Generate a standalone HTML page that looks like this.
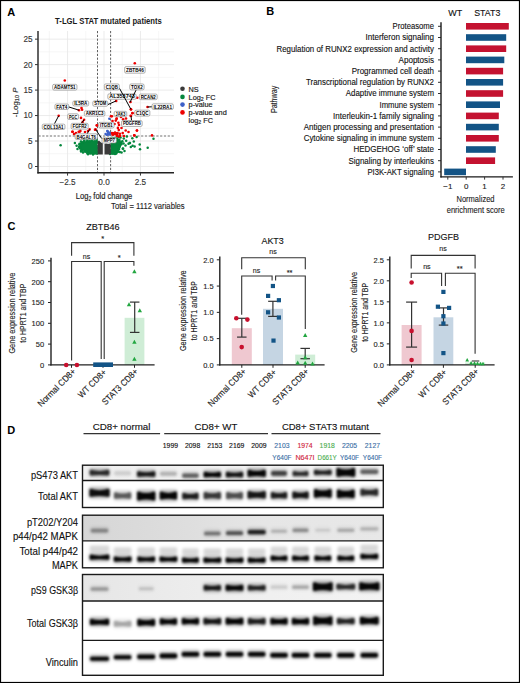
<!DOCTYPE html>
<html><head><meta charset="utf-8"><style>
html,body{margin:0;padding:0;background:#fff;}
svg{display:block;font-family:"Liberation Sans", sans-serif;}
</style></head><body>
<svg width="520" height="683" viewBox="0 0 520 683">
<defs>
<filter id="b1" x="-30%" y="-100%" width="160%" height="300%"><feGaussianBlur stdDeviation="0.95"/></filter>
<filter id="b2" x="-30%" y="-100%" width="160%" height="300%"><feGaussianBlur stdDeviation="1.8"/></filter>
<filter id="b3" x="-30%" y="-100%" width="160%" height="300%"><feGaussianBlur stdDeviation="1.5"/></filter>
<linearGradient id="gp1" x1="0" x2="1" y1="0" y2="0"><stop offset="0" stop-color="#f0f0f0"/><stop offset="1" stop-color="#f4f4f4"/></linearGradient>
<linearGradient id="gp2" x1="0" x2="1" y1="0" y2="0"><stop offset="0" stop-color="#d6d6d6"/><stop offset="0.35" stop-color="#dedede"/><stop offset="0.6" stop-color="#e6e6e6"/><stop offset="1" stop-color="#e8e8e8"/></linearGradient>
<linearGradient id="gp3" x1="0" x2="1" y1="0" y2="0"><stop offset="0" stop-color="#e6e6e6"/><stop offset="0.5" stop-color="#efefef"/><stop offset="1" stop-color="#f3f3f3"/></linearGradient>
</defs>
<rect x="0" y="0" width="520" height="683" fill="#fff"/>
<text x="7.20" y="15.60" font-size="11" text-anchor="start" fill="#000" font-weight="bold">A</text>
<text x="55.10" y="24.20" font-size="8.3" text-anchor="start" fill="#1a1a1a" font-weight="bold" textLength="106.80" lengthAdjust="spacingAndGlyphs">T-LGL STAT mutated patients</text>
<line x1="49.33" y1="31.00" x2="49.33" y2="172.00" stroke="#f0f0f0" stroke-width="0.6"/>
<line x1="85.78" y1="31.00" x2="85.78" y2="172.00" stroke="#f0f0f0" stroke-width="0.6"/>
<line x1="122.22" y1="31.00" x2="122.22" y2="172.00" stroke="#f0f0f0" stroke-width="0.6"/>
<line x1="158.68" y1="31.00" x2="158.68" y2="172.00" stroke="#f0f0f0" stroke-width="0.6"/>
<line x1="38.50" y1="153.76" x2="174.00" y2="153.76" stroke="#f0f0f0" stroke-width="0.6"/>
<line x1="38.50" y1="128.29" x2="174.00" y2="128.29" stroke="#f0f0f0" stroke-width="0.6"/>
<line x1="38.50" y1="102.82" x2="174.00" y2="102.82" stroke="#f0f0f0" stroke-width="0.6"/>
<line x1="38.50" y1="77.35" x2="174.00" y2="77.35" stroke="#f0f0f0" stroke-width="0.6"/>
<line x1="38.50" y1="51.88" x2="174.00" y2="51.88" stroke="#f0f0f0" stroke-width="0.6"/>
<line x1="67.55" y1="31.00" x2="67.55" y2="172.00" stroke="#e6e6e6" stroke-width="0.8"/>
<line x1="104.00" y1="31.00" x2="104.00" y2="172.00" stroke="#e6e6e6" stroke-width="0.8"/>
<line x1="140.45" y1="31.00" x2="140.45" y2="172.00" stroke="#e6e6e6" stroke-width="0.8"/>
<line x1="38.50" y1="166.50" x2="174.00" y2="166.50" stroke="#e6e6e6" stroke-width="0.8"/>
<line x1="38.50" y1="141.03" x2="174.00" y2="141.03" stroke="#e6e6e6" stroke-width="0.8"/>
<line x1="38.50" y1="115.56" x2="174.00" y2="115.56" stroke="#e6e6e6" stroke-width="0.8"/>
<line x1="38.50" y1="90.09" x2="174.00" y2="90.09" stroke="#e6e6e6" stroke-width="0.8"/>
<line x1="38.50" y1="64.62" x2="174.00" y2="64.62" stroke="#e6e6e6" stroke-width="0.8"/>
<line x1="38.50" y1="39.15" x2="174.00" y2="39.15" stroke="#e6e6e6" stroke-width="0.8"/>
<line x1="38.00" y1="31.00" x2="38.00" y2="173.40" stroke="#222" stroke-width="1.4"/>
<line x1="37.40" y1="172.80" x2="174.00" y2="172.80" stroke="#222" stroke-width="1.4"/>
<line x1="35.00" y1="166.50" x2="38.00" y2="166.50" stroke="#333" stroke-width="1"/>
<text x="32.60" y="169.40" font-size="8.2" text-anchor="end" fill="#333" stroke="#333" stroke-width="0.12">0</text>
<line x1="35.00" y1="141.03" x2="38.00" y2="141.03" stroke="#333" stroke-width="1"/>
<text x="32.60" y="143.93" font-size="8.2" text-anchor="end" fill="#333" stroke="#333" stroke-width="0.12">5</text>
<line x1="35.00" y1="115.56" x2="38.00" y2="115.56" stroke="#333" stroke-width="1"/>
<text x="32.60" y="118.46" font-size="8.2" text-anchor="end" fill="#333" stroke="#333" stroke-width="0.12">10</text>
<line x1="35.00" y1="90.09" x2="38.00" y2="90.09" stroke="#333" stroke-width="1"/>
<text x="32.60" y="92.99" font-size="8.2" text-anchor="end" fill="#333" stroke="#333" stroke-width="0.12">15</text>
<line x1="35.00" y1="64.62" x2="38.00" y2="64.62" stroke="#333" stroke-width="1"/>
<text x="32.60" y="67.52" font-size="8.2" text-anchor="end" fill="#333" stroke="#333" stroke-width="0.12">20</text>
<line x1="35.00" y1="39.15" x2="38.00" y2="39.15" stroke="#333" stroke-width="1"/>
<text x="32.60" y="42.05" font-size="8.2" text-anchor="end" fill="#333" stroke="#333" stroke-width="0.12">25</text>
<line x1="67.55" y1="172.80" x2="67.55" y2="175.60" stroke="#333" stroke-width="1"/>
<text x="67.55" y="185.40" font-size="8.2" text-anchor="middle" fill="#333" stroke="#333" stroke-width="0.12">−2.5</text>
<line x1="104.00" y1="172.80" x2="104.00" y2="175.60" stroke="#333" stroke-width="1"/>
<text x="104.00" y="185.40" font-size="8.2" text-anchor="middle" fill="#333" stroke="#333" stroke-width="0.12">0.0</text>
<line x1="140.45" y1="172.80" x2="140.45" y2="175.60" stroke="#333" stroke-width="1"/>
<text x="140.45" y="185.40" font-size="8.2" text-anchor="middle" fill="#333" stroke="#333" stroke-width="0.12">2.5</text>
<text x="75.8" y="199.1" font-size="9.6" fill="#222" stroke="#222" stroke-width="0.18" textLength="56.5" lengthAdjust="spacingAndGlyphs">Log<tspan font-size="6.5" dy="2">2</tspan><tspan dy="-2"> fold change</tspan></text>
<text x="111.10" y="209.20" font-size="9.2" text-anchor="start" fill="#222" stroke="#222" stroke-width="0.12" textLength="73.60" lengthAdjust="spacingAndGlyphs">Total = 1112 variables</text>
<text x="17.6" y="117.2" font-size="8.0" fill="#333" stroke="#333" stroke-width="0.18" transform="rotate(-90 17.6 117.2)">-Log<tspan font-size="5.6" dy="1.8">10</tspan><tspan dy="-1.8" font-style="italic"> P</tspan></text>
<circle cx="182.50" cy="88.80" r="2.3" fill="#3a3a3a"/>
<text x="188.6" y="91.50" font-size="7.3" fill="#222" stroke="#222" stroke-width="0.18">NS</text>
<circle cx="182.50" cy="96.90" r="2.3" fill="#05873d"/>
<text x="188.6" y="99.60" font-size="7.3" fill="#222" stroke="#222" stroke-width="0.18">Log<tspan font-size="5.2" dy="1.6">2</tspan><tspan dy="-1.6"> FC</tspan></text>
<circle cx="182.50" cy="104.60" r="2.3" fill="#3d60c8"/>
<text x="188.6" y="107.30" font-size="7.3" fill="#222" stroke="#222" stroke-width="0.18">p-value</text>
<circle cx="182.50" cy="112.40" r="2.3" fill="#ee0000"/>
<text x="188.6" y="115.10" font-size="7.3" fill="#222" stroke="#222" stroke-width="0.18">p-value and</text>
<text x="188.6" y="122.6" font-size="7.3" fill="#222" stroke="#222" stroke-width="0.18">log<tspan font-size="5.2" dy="1.6">2</tspan><tspan dy="-1.6"> FC</tspan></text>
<line x1="97.50" y1="31.00" x2="97.50" y2="172.00" stroke="#444" stroke-width="0.85" stroke-dasharray="2.2,1.6"/>
<line x1="110.60" y1="31.00" x2="110.60" y2="172.00" stroke="#444" stroke-width="0.85" stroke-dasharray="2.2,1.6"/>
<line x1="38.50" y1="136.00" x2="174.00" y2="136.00" stroke="#555" stroke-width="0.85" stroke-dasharray="2.2,1.6"/>
<polygon points="79.0,146.0 82.0,143.0 86.0,141.3 90.0,140.4 97.6,140.3 97.6,154.5 90.0,153.9 85.0,151.6 80.0,149.5" fill="#05873d"/>
<polygon points="110.8,139.0 112.0,138.3 118.0,138.5 120.5,141.0 121.0,145.0 119.5,149.5 117.0,153.0 113.0,154.5 110.8,154.5" fill="#05873d"/>
<circle cx="79.32" cy="144.84" r="1.25" fill="#05873d"/>
<circle cx="80.74" cy="143.82" r="1.25" fill="#05873d"/>
<circle cx="81.46" cy="143.39" r="1.25" fill="#05873d"/>
<circle cx="82.09" cy="142.67" r="1.25" fill="#05873d"/>
<circle cx="83.26" cy="142.04" r="1.25" fill="#05873d"/>
<circle cx="84.51" cy="140.99" r="1.25" fill="#05873d"/>
<circle cx="86.68" cy="141.64" r="1.25" fill="#05873d"/>
<circle cx="87.40" cy="140.41" r="1.25" fill="#05873d"/>
<circle cx="89.40" cy="141.30" r="1.25" fill="#05873d"/>
<circle cx="91.64" cy="140.21" r="1.25" fill="#05873d"/>
<circle cx="94.56" cy="139.62" r="1.25" fill="#05873d"/>
<circle cx="96.65" cy="139.98" r="1.25" fill="#05873d"/>
<circle cx="97.03" cy="142.53" r="1.25" fill="#05873d"/>
<circle cx="97.29" cy="147.91" r="1.25" fill="#05873d"/>
<circle cx="97.09" cy="151.79" r="1.25" fill="#05873d"/>
<circle cx="96.30" cy="153.40" r="1.25" fill="#05873d"/>
<circle cx="93.88" cy="153.40" r="1.25" fill="#05873d"/>
<circle cx="90.82" cy="153.40" r="1.25" fill="#05873d"/>
<circle cx="89.29" cy="153.32" r="1.25" fill="#05873d"/>
<circle cx="87.20" cy="152.89" r="1.25" fill="#05873d"/>
<circle cx="85.93" cy="151.74" r="1.25" fill="#05873d"/>
<circle cx="84.47" cy="151.50" r="1.25" fill="#05873d"/>
<circle cx="82.09" cy="150.67" r="1.25" fill="#05873d"/>
<circle cx="81.04" cy="150.52" r="1.25" fill="#05873d"/>
<circle cx="80.17" cy="148.46" r="1.25" fill="#05873d"/>
<circle cx="80.27" cy="147.14" r="1.25" fill="#05873d"/>
<circle cx="79.07" cy="147.11" r="1.25" fill="#05873d"/>
<circle cx="110.48" cy="138.84" r="1.25" fill="#05873d"/>
<circle cx="110.66" cy="138.92" r="1.25" fill="#05873d"/>
<circle cx="112.18" cy="138.56" r="1.25" fill="#05873d"/>
<circle cx="113.80" cy="138.04" r="1.25" fill="#05873d"/>
<circle cx="115.31" cy="138.55" r="1.25" fill="#05873d"/>
<circle cx="116.93" cy="138.39" r="1.25" fill="#05873d"/>
<circle cx="119.04" cy="139.71" r="1.25" fill="#05873d"/>
<circle cx="119.21" cy="140.01" r="1.25" fill="#05873d"/>
<circle cx="119.30" cy="140.82" r="1.25" fill="#05873d"/>
<circle cx="120.84" cy="142.59" r="1.25" fill="#05873d"/>
<circle cx="121.27" cy="142.66" r="1.25" fill="#05873d"/>
<circle cx="120.72" cy="144.47" r="1.25" fill="#05873d"/>
<circle cx="119.94" cy="145.84" r="1.25" fill="#05873d"/>
<circle cx="119.72" cy="146.64" r="1.25" fill="#05873d"/>
<circle cx="119.09" cy="149.03" r="1.25" fill="#05873d"/>
<circle cx="118.41" cy="149.80" r="1.25" fill="#05873d"/>
<circle cx="118.08" cy="151.84" r="1.25" fill="#05873d"/>
<circle cx="116.83" cy="152.22" r="1.25" fill="#05873d"/>
<circle cx="116.28" cy="153.40" r="1.25" fill="#05873d"/>
<circle cx="115.51" cy="153.40" r="1.25" fill="#05873d"/>
<circle cx="113.45" cy="153.40" r="1.25" fill="#05873d"/>
<circle cx="112.63" cy="153.40" r="1.25" fill="#05873d"/>
<circle cx="110.72" cy="153.40" r="1.25" fill="#05873d"/>
<circle cx="110.37" cy="151.38" r="1.25" fill="#05873d"/>
<circle cx="110.94" cy="146.37" r="1.25" fill="#05873d"/>
<circle cx="110.01" cy="141.97" r="1.25" fill="#05873d"/>
<circle cx="74.90" cy="143.00" r="1.25" fill="#05873d"/>
<circle cx="76.60" cy="145.80" r="1.25" fill="#05873d"/>
<circle cx="60.60" cy="145.30" r="1.25" fill="#05873d"/>
<circle cx="77.50" cy="149.00" r="1.25" fill="#05873d"/>
<circle cx="81.00" cy="151.50" r="1.25" fill="#05873d"/>
<circle cx="83.00" cy="152.50" r="1.25" fill="#05873d"/>
<circle cx="122.80" cy="148.70" r="1.25" fill="#05873d"/>
<circle cx="126.20" cy="140.70" r="1.25" fill="#05873d"/>
<circle cx="129.70" cy="143.00" r="1.25" fill="#05873d"/>
<circle cx="126.90" cy="136.60" r="1.25" fill="#05873d"/>
<circle cx="132.30" cy="138.20" r="1.25" fill="#05873d"/>
<circle cx="136.60" cy="136.90" r="1.25" fill="#05873d"/>
<circle cx="153.50" cy="138.80" r="1.25" fill="#05873d"/>
<circle cx="133.80" cy="141.50" r="1.25" fill="#05873d"/>
<circle cx="130.00" cy="143.10" r="1.25" fill="#05873d"/>
<circle cx="139.70" cy="144.60" r="1.25" fill="#05873d"/>
<circle cx="132.60" cy="145.80" r="1.25" fill="#05873d"/>
<circle cx="134.60" cy="146.50" r="1.25" fill="#05873d"/>
<circle cx="130.80" cy="146.90" r="1.25" fill="#05873d"/>
<circle cx="147.70" cy="147.70" r="1.25" fill="#05873d"/>
<circle cx="140.00" cy="149.20" r="1.25" fill="#05873d"/>
<circle cx="123.00" cy="148.50" r="1.25" fill="#05873d"/>
<circle cx="128.50" cy="143.80" r="1.25" fill="#05873d"/>
<circle cx="123.80" cy="138.50" r="1.25" fill="#05873d"/>
<circle cx="122.30" cy="141.20" r="1.25" fill="#05873d"/>
<circle cx="124.50" cy="151.00" r="1.25" fill="#05873d"/>
<circle cx="121.50" cy="152.50" r="1.25" fill="#05873d"/>
<circle cx="125.50" cy="145.50" r="1.25" fill="#05873d"/>
<circle cx="84.00" cy="139.80" r="1.25" fill="#05873d"/>
<circle cx="81.00" cy="141.50" r="1.25" fill="#05873d"/>
<circle cx="87.00" cy="139.00" r="1.25" fill="#05873d"/>
<circle cx="92.00" cy="139.00" r="1.25" fill="#05873d"/>
<circle cx="120.50" cy="137.50" r="1.25" fill="#05873d"/>
<circle cx="118.50" cy="137.00" r="1.25" fill="#05873d"/>
<circle cx="79.50" cy="143.80" r="1.25" fill="#05873d"/>
<circle cx="121.50" cy="144.00" r="1.25" fill="#05873d"/>
<circle cx="123.50" cy="143.50" r="1.25" fill="#05873d"/>
<circle cx="119.80" cy="152.00" r="1.25" fill="#05873d"/>
<circle cx="115.00" cy="154.00" r="1.25" fill="#05873d"/>
<circle cx="110.00" cy="154.00" r="1.25" fill="#05873d"/>
<circle cx="88.00" cy="154.30" r="1.25" fill="#05873d"/>
<circle cx="93.00" cy="154.40" r="1.25" fill="#05873d"/>
<polygon points="97.7,141.5 99,140.5 100.5,142 102,143 102.8,143.2 102.8,154.5 97.7,154.5" fill="#3a3a3a"/>
<polygon points="104.5,144 106,143.6 108,143.9 110.8,143.6 110.8,154.5 104.5,154.5" fill="#3a3a3a"/>
<polygon points="106.7,130.5 108,129.8 109,131 110.6,132.5 110.6,135.8 106.7,135.8" fill="#3d60c8"/>
<circle cx="109.30" cy="118.80" r="1.2" fill="#3d60c8"/>
<circle cx="107.20" cy="131.00" r="1.2" fill="#3d60c8"/>
<circle cx="110.20" cy="133.00" r="1.2" fill="#3d60c8"/>
<circle cx="106.80" cy="134.80" r="1.2" fill="#3d60c8"/>
<circle cx="105.50" cy="134.00" r="1.2" fill="#3d60c8"/>
<circle cx="64.80" cy="80.50" r="1.3" fill="#ee0000"/>
<circle cx="134.80" cy="63.30" r="1.3" fill="#ee0000"/>
<circle cx="58.70" cy="115.80" r="1.3" fill="#ee0000"/>
<circle cx="79.00" cy="110.20" r="1.3" fill="#ee0000"/>
<circle cx="81.50" cy="108.10" r="1.3" fill="#ee0000"/>
<circle cx="82.10" cy="109.80" r="1.3" fill="#ee0000"/>
<circle cx="81.00" cy="117.90" r="1.3" fill="#ee0000"/>
<circle cx="84.10" cy="119.80" r="1.3" fill="#ee0000"/>
<circle cx="82.70" cy="121.90" r="1.3" fill="#ee0000"/>
<circle cx="72.30" cy="131.70" r="1.3" fill="#ee0000"/>
<circle cx="78.70" cy="131.70" r="1.3" fill="#ee0000"/>
<circle cx="80.40" cy="130.90" r="1.3" fill="#ee0000"/>
<circle cx="72.70" cy="131.70" r="1.3" fill="#ee0000"/>
<circle cx="79.60" cy="131.70" r="1.3" fill="#ee0000"/>
<circle cx="89.60" cy="129.40" r="1.3" fill="#ee0000"/>
<circle cx="96.80" cy="125.40" r="1.3" fill="#ee0000"/>
<circle cx="95.60" cy="129.40" r="1.3" fill="#ee0000"/>
<circle cx="111.00" cy="116.20" r="1.3" fill="#ee0000"/>
<circle cx="116.20" cy="100.90" r="1.3" fill="#ee0000"/>
<circle cx="116.70" cy="118.50" r="1.3" fill="#ee0000"/>
<circle cx="130.50" cy="102.00" r="1.3" fill="#ee0000"/>
<circle cx="131.00" cy="109.40" r="1.3" fill="#ee0000"/>
<circle cx="132.50" cy="113.00" r="1.3" fill="#ee0000"/>
<circle cx="131.00" cy="116.00" r="1.3" fill="#ee0000"/>
<circle cx="137.30" cy="97.70" r="1.3" fill="#ee0000"/>
<circle cx="147.50" cy="107.00" r="1.3" fill="#ee0000"/>
<circle cx="111.90" cy="116.20" r="1.3" fill="#ee0000"/>
<circle cx="116.60" cy="118.80" r="1.3" fill="#ee0000"/>
<circle cx="115.80" cy="120.60" r="1.3" fill="#ee0000"/>
<circle cx="118.40" cy="122.70" r="1.3" fill="#ee0000"/>
<circle cx="123.10" cy="119.30" r="1.3" fill="#ee0000"/>
<circle cx="117.90" cy="127.90" r="1.3" fill="#ee0000"/>
<circle cx="118.80" cy="130.10" r="1.3" fill="#ee0000"/>
<circle cx="125.70" cy="130.50" r="1.3" fill="#ee0000"/>
<circle cx="122.70" cy="133.10" r="1.3" fill="#ee0000"/>
<circle cx="120.10" cy="135.70" r="1.3" fill="#ee0000"/>
<circle cx="137.00" cy="130.50" r="1.3" fill="#ee0000"/>
<circle cx="134.40" cy="135.30" r="1.3" fill="#ee0000"/>
<circle cx="96.90" cy="125.30" r="1.3" fill="#ee0000"/>
<circle cx="130.90" cy="109.30" r="1.3" fill="#ee0000"/>
<circle cx="132.40" cy="113.20" r="1.3" fill="#ee0000"/>
<circle cx="130.70" cy="115.80" r="1.3" fill="#ee0000"/>
<circle cx="136.90" cy="130.50" r="1.3" fill="#ee0000"/>
<circle cx="134.20" cy="135.40" r="1.3" fill="#ee0000"/>
<circle cx="152.00" cy="135.40" r="1.3" fill="#ee0000"/>
<circle cx="95.00" cy="129.70" r="1.3" fill="#ee0000"/>
<circle cx="112.00" cy="133.00" r="1.3" fill="#ee0000"/>
<circle cx="114.00" cy="133.50" r="1.3" fill="#ee0000"/>
<circle cx="116.00" cy="134.00" r="1.3" fill="#ee0000"/>
<circle cx="117.50" cy="133.00" r="1.3" fill="#ee0000"/>
<circle cx="113.00" cy="134.80" r="1.3" fill="#ee0000"/>
<circle cx="115.00" cy="132.50" r="1.3" fill="#ee0000"/>
<circle cx="119.00" cy="125.00" r="1.3" fill="#ee0000"/>
<circle cx="121.50" cy="128.00" r="1.3" fill="#ee0000"/>
<circle cx="119.80" cy="133.80" r="1.3" fill="#ee0000"/>
<circle cx="124.00" cy="136.00" r="1.3" fill="#ee0000"/>
<circle cx="112.50" cy="121.00" r="1.3" fill="#ee0000"/>
<circle cx="114.50" cy="124.00" r="1.3" fill="#ee0000"/>
<circle cx="121.00" cy="117.00" r="1.3" fill="#ee0000"/>
<circle cx="126.00" cy="118.50" r="1.3" fill="#ee0000"/>
<circle cx="128.50" cy="132.00" r="1.3" fill="#ee0000"/>
<circle cx="117.00" cy="136.00" r="1.3" fill="#ee0000"/>
<circle cx="119.00" cy="136.50" r="1.3" fill="#ee0000"/>
<circle cx="88.00" cy="131.00" r="1.3" fill="#ee0000"/>
<circle cx="85.00" cy="132.00" r="1.3" fill="#ee0000"/>
<circle cx="76.00" cy="133.00" r="1.3" fill="#ee0000"/>
<circle cx="74.00" cy="134.00" r="1.3" fill="#ee0000"/>
<polygon points="111.2,132.3 117.8,132 118.5,135 111.2,135.2" fill="#ee0000"/>
<rect x="52.65" y="84.35" width="24.30" height="5.70" rx="1.4" fill="#fff" stroke="#8a8a8a" stroke-width="0.7"/>
<text x="64.80" y="89.05" font-size="5.0" text-anchor="middle" fill="#000" font-weight="bold" textLength="21.60" lengthAdjust="spacingAndGlyphs">ADAMTS1</text>
<rect x="54.95" y="104.05" width="13.70" height="5.40" rx="1.4" fill="#fff" stroke="#8a8a8a" stroke-width="0.7"/>
<text x="61.80" y="108.60" font-size="5.0" text-anchor="middle" fill="#000" font-weight="bold" textLength="11.00" lengthAdjust="spacingAndGlyphs">FAT4</text>
<rect x="42.25" y="124.15" width="22.70" height="5.30" rx="1.4" fill="#fff" stroke="#8a8a8a" stroke-width="0.7"/>
<text x="53.60" y="128.65" font-size="5.0" text-anchor="middle" fill="#000" font-weight="bold" textLength="20.00" lengthAdjust="spacingAndGlyphs">COL13A1</text>
<rect x="67.65" y="113.85" width="10.80" height="5.60" rx="1.4" fill="#fff" stroke="#8a8a8a" stroke-width="0.7"/>
<text x="73.05" y="118.50" font-size="5.0" text-anchor="middle" fill="#000" font-weight="bold" textLength="8.10" lengthAdjust="spacingAndGlyphs">PGC</text>
<rect x="72.85" y="100.95" width="15.80" height="5.00" rx="1.4" fill="#fff" stroke="#8a8a8a" stroke-width="0.7"/>
<text x="80.75" y="105.30" font-size="5.0" text-anchor="middle" fill="#000" font-weight="bold" textLength="13.10" lengthAdjust="spacingAndGlyphs">IL5RA</text>
<rect x="92.85" y="100.95" width="14.80" height="5.30" rx="1.4" fill="#fff" stroke="#8a8a8a" stroke-width="0.7"/>
<text x="100.25" y="105.45" font-size="5.0" text-anchor="middle" fill="#000" font-weight="bold" textLength="12.10" lengthAdjust="spacingAndGlyphs">STOM</text>
<rect x="84.35" y="110.95" width="20.50" height="5.10" rx="1.4" fill="#fff" stroke="#8a8a8a" stroke-width="0.7"/>
<text x="94.60" y="115.35" font-size="5.0" text-anchor="middle" fill="#000" font-weight="bold" textLength="17.80" lengthAdjust="spacingAndGlyphs">AKR1C3</text>
<rect x="71.15" y="123.35" width="17.00" height="5.70" rx="1.4" fill="#fff" stroke="#8a8a8a" stroke-width="0.7"/>
<text x="79.65" y="128.05" font-size="5.0" text-anchor="middle" fill="#000" font-weight="bold" textLength="14.30" lengthAdjust="spacingAndGlyphs">FGFR2</text>
<rect x="75.15" y="133.85" width="22.20" height="5.60" rx="1.4" fill="#fff" stroke="#8a8a8a" stroke-width="0.7"/>
<text x="86.25" y="138.50" font-size="5.0" text-anchor="middle" fill="#000" font-weight="bold" textLength="19.50" lengthAdjust="spacingAndGlyphs">B4GALT6</text>
<rect x="102.05" y="137.85" width="14.30" height="5.10" rx="1.4" fill="#fff" stroke="#8a8a8a" stroke-width="0.7"/>
<text x="109.20" y="142.25" font-size="5.0" text-anchor="middle" fill="#000" font-weight="bold" textLength="11.60" lengthAdjust="spacingAndGlyphs">MPP7</text>
<rect x="98.65" y="122.35" width="15.40" height="5.60" rx="1.4" fill="#fff" stroke="#8a8a8a" stroke-width="0.7"/>
<text x="106.35" y="127.00" font-size="5.0" text-anchor="middle" fill="#000" font-weight="bold" textLength="12.70" lengthAdjust="spacingAndGlyphs">ITGB1</text>
<rect x="114.15" y="111.35" width="12.60" height="5.30" rx="1.4" fill="#fff" stroke="#8a8a8a" stroke-width="0.7"/>
<text x="120.45" y="115.85" font-size="5.0" text-anchor="middle" fill="#000" font-weight="bold" textLength="9.90" lengthAdjust="spacingAndGlyphs">JAK3</text>
<rect x="104.35" y="83.95" width="14.90" height="5.90" rx="1.4" fill="#fff" stroke="#8a8a8a" stroke-width="0.7"/>
<text x="111.80" y="88.75" font-size="5.0" text-anchor="middle" fill="#000" font-weight="bold" textLength="12.20" lengthAdjust="spacingAndGlyphs">C1QB</text>
<rect x="107.85" y="93.85" width="28.30" height="5.40" rx="1.4" fill="#fff" stroke="#8a8a8a" stroke-width="0.7"/>
<text x="122.00" y="98.40" font-size="5.0" text-anchor="middle" fill="#000" font-weight="bold" textLength="25.60" lengthAdjust="spacingAndGlyphs">AL353743</text>
<rect x="124.65" y="66.65" width="20.50" height="6.50" rx="1.4" fill="#fff" stroke="#8a8a8a" stroke-width="0.7"/>
<text x="134.90" y="71.75" font-size="5.0" text-anchor="middle" fill="#000" font-weight="bold" textLength="17.80" lengthAdjust="spacingAndGlyphs">ZBTB46</text>
<rect x="129.75" y="83.95" width="14.30" height="5.90" rx="1.4" fill="#fff" stroke="#8a8a8a" stroke-width="0.7"/>
<text x="136.90" y="88.75" font-size="5.0" text-anchor="middle" fill="#000" font-weight="bold" textLength="11.60" lengthAdjust="spacingAndGlyphs">TOX2</text>
<rect x="139.35" y="94.05" width="17.80" height="5.60" rx="1.4" fill="#fff" stroke="#8a8a8a" stroke-width="0.7"/>
<text x="148.25" y="98.70" font-size="5.0" text-anchor="middle" fill="#000" font-weight="bold" textLength="15.10" lengthAdjust="spacingAndGlyphs">RCAN2</text>
<rect x="152.05" y="103.85" width="21.30" height="5.60" rx="1.4" fill="#fff" stroke="#8a8a8a" stroke-width="0.7"/>
<text x="162.70" y="108.50" font-size="5.0" text-anchor="middle" fill="#000" font-weight="bold" textLength="18.60" lengthAdjust="spacingAndGlyphs">IL22RA1</text>
<rect x="134.75" y="110.15" width="15.10" height="5.90" rx="1.4" fill="#fff" stroke="#8a8a8a" stroke-width="0.7"/>
<text x="142.30" y="114.95" font-size="5.0" text-anchor="middle" fill="#000" font-weight="bold" textLength="12.40" lengthAdjust="spacingAndGlyphs">C1QC</text>
<rect x="121.55" y="120.55" width="20.60" height="5.90" rx="1.4" fill="#fff" stroke="#8a8a8a" stroke-width="0.7"/>
<text x="131.85" y="125.35" font-size="5.0" text-anchor="middle" fill="#000" font-weight="bold" textLength="17.90" lengthAdjust="spacingAndGlyphs">PDGFRB</text>
<line x1="69.00" y1="107.00" x2="79.00" y2="110.20" stroke="#000" stroke-width="1.0"/>
<line x1="54.60" y1="123.50" x2="58.70" y2="115.80" stroke="#000" stroke-width="1.0"/>
<line x1="119.60" y1="88.50" x2="130.90" y2="109.30" stroke="#000" stroke-width="1.0"/>
<line x1="136.00" y1="90.20" x2="130.00" y2="102.30" stroke="#000" stroke-width="1.0"/>
<line x1="108.00" y1="104.50" x2="116.20" y2="100.90" stroke="#000" stroke-width="1.0"/>
<line x1="151.70" y1="106.80" x2="147.50" y2="107.00" stroke="#000" stroke-width="1.0"/>
<line x1="131.00" y1="116.00" x2="131.50" y2="120.20" stroke="#000" stroke-width="1.0"/>
<line x1="87.30" y1="133.50" x2="89.60" y2="129.40" stroke="#000" stroke-width="1.0"/>
<line x1="95.60" y1="129.40" x2="101.70" y2="138.50" stroke="#000" stroke-width="1.0"/>
<line x1="81.50" y1="123.00" x2="84.10" y2="119.80" stroke="#000" stroke-width="1.0"/>
<text x="266.20" y="15.20" font-size="11" text-anchor="start" fill="#000" font-weight="bold">B</text>
<text x="448.30" y="16.00" font-size="9" text-anchor="start" fill="#111" stroke="#111" stroke-width="0.12" textLength="14.00" lengthAdjust="spacingAndGlyphs">WT</text>
<text x="474.20" y="16.00" font-size="9" text-anchor="start" fill="#111" stroke="#111" stroke-width="0.12" textLength="26.10" lengthAdjust="spacingAndGlyphs">STAT3</text>
<text x="434.00" y="29.20" font-size="8.6" text-anchor="end" fill="#111" stroke="#111" stroke-width="0.12" textLength="41.40" lengthAdjust="spacingAndGlyphs">Proteasome</text>
<line x1="438.00" y1="26.30" x2="441.00" y2="26.30" stroke="#333" stroke-width="1"/>
<rect x="466.00" y="23.00" width="42.80" height="6.60" fill="#c41230"/>
<text x="434.00" y="40.40" font-size="8.6" text-anchor="end" fill="#111" stroke="#111" stroke-width="0.12" textLength="68.50" lengthAdjust="spacingAndGlyphs">Interferon signaling</text>
<line x1="438.00" y1="37.50" x2="441.00" y2="37.50" stroke="#333" stroke-width="1"/>
<rect x="466.00" y="34.20" width="40.20" height="6.60" fill="#135486"/>
<text x="434.00" y="51.60" font-size="8.6" text-anchor="end" fill="#111" stroke="#111" stroke-width="0.12" textLength="157.50" lengthAdjust="spacingAndGlyphs">Regulation of RUNX2 expression and activity</text>
<line x1="438.00" y1="48.70" x2="441.00" y2="48.70" stroke="#333" stroke-width="1"/>
<rect x="466.00" y="45.40" width="40.20" height="6.60" fill="#c41230"/>
<text x="434.00" y="62.80" font-size="8.6" text-anchor="end" fill="#111" stroke="#111" stroke-width="0.12" textLength="35.50" lengthAdjust="spacingAndGlyphs">Apoptosis</text>
<line x1="438.00" y1="59.90" x2="441.00" y2="59.90" stroke="#333" stroke-width="1"/>
<rect x="466.00" y="56.60" width="38.30" height="6.60" fill="#135486"/>
<text x="434.00" y="74.00" font-size="8.6" text-anchor="end" fill="#111" stroke="#111" stroke-width="0.12" textLength="82.30" lengthAdjust="spacingAndGlyphs">Programmed cell death</text>
<line x1="438.00" y1="71.10" x2="441.00" y2="71.10" stroke="#333" stroke-width="1"/>
<rect x="466.00" y="67.80" width="37.10" height="6.60" fill="#c41230"/>
<text x="434.00" y="85.20" font-size="8.6" text-anchor="end" fill="#111" stroke="#111" stroke-width="0.12" textLength="128.00" lengthAdjust="spacingAndGlyphs">Transcriptional regulation by RUNX2</text>
<line x1="438.00" y1="82.30" x2="441.00" y2="82.30" stroke="#333" stroke-width="1"/>
<rect x="466.00" y="79.00" width="37.10" height="6.60" fill="#135486"/>
<text x="434.00" y="96.40" font-size="8.6" text-anchor="end" fill="#111" stroke="#111" stroke-width="0.12" textLength="88.20" lengthAdjust="spacingAndGlyphs">Adaptive immune system</text>
<line x1="438.00" y1="93.50" x2="441.00" y2="93.50" stroke="#333" stroke-width="1"/>
<rect x="466.00" y="90.20" width="37.10" height="6.60" fill="#c41230"/>
<text x="434.00" y="107.60" font-size="8.6" text-anchor="end" fill="#111" stroke="#111" stroke-width="0.12" textLength="54.50" lengthAdjust="spacingAndGlyphs">Immune system</text>
<line x1="438.00" y1="104.70" x2="441.00" y2="104.70" stroke="#333" stroke-width="1"/>
<rect x="466.00" y="101.40" width="34.00" height="6.60" fill="#135486"/>
<text x="434.00" y="118.80" font-size="8.6" text-anchor="end" fill="#111" stroke="#111" stroke-width="0.12" textLength="100.90" lengthAdjust="spacingAndGlyphs">Interleukin-1 family signaling</text>
<line x1="438.00" y1="115.90" x2="441.00" y2="115.90" stroke="#333" stroke-width="1"/>
<rect x="466.00" y="112.60" width="32.80" height="6.60" fill="#c41230"/>
<text x="434.00" y="130.00" font-size="8.6" text-anchor="end" fill="#111" stroke="#111" stroke-width="0.12" textLength="130.30" lengthAdjust="spacingAndGlyphs">Antigen processing and presentation</text>
<line x1="438.00" y1="127.10" x2="441.00" y2="127.10" stroke="#333" stroke-width="1"/>
<rect x="466.00" y="123.80" width="32.80" height="6.60" fill="#135486"/>
<text x="434.00" y="141.20" font-size="8.6" text-anchor="end" fill="#111" stroke="#111" stroke-width="0.12" textLength="130.30" lengthAdjust="spacingAndGlyphs">Cytokine signaling in immune system</text>
<line x1="438.00" y1="138.30" x2="441.00" y2="138.30" stroke="#333" stroke-width="1"/>
<rect x="466.00" y="135.00" width="32.80" height="6.60" fill="#c41230"/>
<text x="434.00" y="152.40" font-size="8.6" text-anchor="end" fill="#111" stroke="#111" stroke-width="0.12" textLength="80.60" lengthAdjust="spacingAndGlyphs">HEDGEHOG ‘off’ state</text>
<line x1="438.00" y1="149.50" x2="441.00" y2="149.50" stroke="#333" stroke-width="1"/>
<rect x="466.00" y="146.20" width="29.80" height="6.60" fill="#135486"/>
<text x="434.00" y="163.60" font-size="8.6" text-anchor="end" fill="#111" stroke="#111" stroke-width="0.12" textLength="85.50" lengthAdjust="spacingAndGlyphs">Signaling by interleukins</text>
<line x1="438.00" y1="160.70" x2="441.00" y2="160.70" stroke="#333" stroke-width="1"/>
<rect x="466.00" y="157.40" width="29.10" height="6.60" fill="#c41230"/>
<text x="434.00" y="174.80" font-size="8.6" text-anchor="end" fill="#111" stroke="#111" stroke-width="0.12" textLength="66.60" lengthAdjust="spacingAndGlyphs">PI3K-AKT signaling</text>
<line x1="438.00" y1="171.90" x2="441.00" y2="171.90" stroke="#333" stroke-width="1"/>
<rect x="444.20" y="168.60" width="21.80" height="6.60" fill="#135486"/>
<line x1="441.00" y1="22.20" x2="441.00" y2="177.50" stroke="#1a1a1a" stroke-width="1.4"/>
<line x1="440.40" y1="176.90" x2="512.90" y2="176.90" stroke="#1a1a1a" stroke-width="1.4"/>
<line x1="447.80" y1="176.90" x2="447.80" y2="179.60" stroke="#333" stroke-width="1"/>
<text x="447.80" y="189.00" font-size="8" text-anchor="middle" fill="#222" stroke="#222" stroke-width="0.12">−1</text>
<line x1="466.20" y1="176.90" x2="466.20" y2="179.60" stroke="#333" stroke-width="1"/>
<text x="466.20" y="189.00" font-size="8" text-anchor="middle" fill="#222" stroke="#222" stroke-width="0.12">0</text>
<line x1="484.60" y1="176.90" x2="484.60" y2="179.60" stroke="#333" stroke-width="1"/>
<text x="484.60" y="189.00" font-size="8" text-anchor="middle" fill="#222" stroke="#222" stroke-width="0.12">1</text>
<line x1="503.00" y1="176.90" x2="503.00" y2="179.60" stroke="#333" stroke-width="1"/>
<text x="503.00" y="189.00" font-size="8" text-anchor="middle" fill="#222" stroke="#222" stroke-width="0.12">2</text>
<text x="475.50" y="202.30" font-size="9" text-anchor="middle" fill="#222" stroke="#222" stroke-width="0.12" textLength="38.00" lengthAdjust="spacingAndGlyphs">Normalized</text>
<text x="475.70" y="213.00" font-size="9" text-anchor="middle" fill="#222" stroke="#222" stroke-width="0.12" textLength="58.00" lengthAdjust="spacingAndGlyphs">enrichment score</text>
<text x="276.90" y="113.10" font-size="9" text-anchor="start" fill="#222" stroke="#222" stroke-width="0.12" textLength="27.30" lengthAdjust="spacingAndGlyphs" transform="rotate(-90 276.90 113.10)">Pathway</text>
<text x="7.40" y="229.80" font-size="11" text-anchor="start" fill="#000" font-weight="bold">C</text>
<rect x="124.60" y="317.80" width="19.80" height="47.10" fill="#cfedd6"/>
<line x1="51.00" y1="257.70" x2="51.00" y2="365.60" stroke="#222" stroke-width="1.4"/>
<line x1="50.40" y1="364.90" x2="154.60" y2="364.90" stroke="#222" stroke-width="1.4"/>
<line x1="48.00" y1="364.90" x2="51.00" y2="364.90" stroke="#222" stroke-width="1"/>
<text x="44.20" y="367.70" font-size="8" text-anchor="end" fill="#222" stroke="#222" stroke-width="0.12" textLength="4.20" lengthAdjust="spacingAndGlyphs">0</text>
<line x1="48.00" y1="344.10" x2="51.00" y2="344.10" stroke="#222" stroke-width="1"/>
<text x="44.20" y="346.90" font-size="8" text-anchor="end" fill="#222" stroke="#222" stroke-width="0.12" textLength="8.40" lengthAdjust="spacingAndGlyphs">50</text>
<line x1="48.00" y1="323.30" x2="51.00" y2="323.30" stroke="#222" stroke-width="1"/>
<text x="44.20" y="326.10" font-size="8" text-anchor="end" fill="#222" stroke="#222" stroke-width="0.12" textLength="12.60" lengthAdjust="spacingAndGlyphs">100</text>
<line x1="48.00" y1="302.50" x2="51.00" y2="302.50" stroke="#222" stroke-width="1"/>
<text x="44.20" y="305.30" font-size="8" text-anchor="end" fill="#222" stroke="#222" stroke-width="0.12" textLength="12.60" lengthAdjust="spacingAndGlyphs">150</text>
<line x1="48.00" y1="281.70" x2="51.00" y2="281.70" stroke="#222" stroke-width="1"/>
<text x="44.20" y="284.50" font-size="8" text-anchor="end" fill="#222" stroke="#222" stroke-width="0.12" textLength="12.60" lengthAdjust="spacingAndGlyphs">200</text>
<line x1="48.00" y1="260.90" x2="51.00" y2="260.90" stroke="#222" stroke-width="1"/>
<text x="44.20" y="263.70" font-size="8" text-anchor="end" fill="#222" stroke="#222" stroke-width="0.12" textLength="12.60" lengthAdjust="spacingAndGlyphs">250</text>
<line x1="71.50" y1="364.90" x2="71.50" y2="367.80" stroke="#222" stroke-width="1"/>
<line x1="103.00" y1="364.90" x2="103.00" y2="367.80" stroke="#222" stroke-width="1"/>
<line x1="134.50" y1="364.90" x2="134.50" y2="367.80" stroke="#222" stroke-width="1"/>
<text x="102.90" y="230.10" font-size="9.9" text-anchor="middle" fill="#111" stroke="#111" stroke-width="0.12" textLength="33.40" lengthAdjust="spacingAndGlyphs">ZBTB46</text>
<text x="14.80" y="313.20" font-size="9" text-anchor="middle" fill="#222" stroke="#222" stroke-width="0.12" textLength="80.80" lengthAdjust="spacingAndGlyphs" transform="rotate(-90 14.80 313.20)">Gene expression relative</text>
<text x="25.70" y="313.20" font-size="9" text-anchor="middle" fill="#222" stroke="#222" stroke-width="0.12" textLength="58.90" lengthAdjust="spacingAndGlyphs" transform="rotate(-90 25.70 313.20)">to HPRT1 and TBP</text>
<text x="41.20" y="407.30" font-size="9" text-anchor="start" fill="#222" stroke="#222" stroke-width="0.12" textLength="49.90" lengthAdjust="spacingAndGlyphs" transform="rotate(-45 41.20 407.30)">Normal CD8+</text>
<text x="81.60" y="398.40" font-size="9" text-anchor="start" fill="#222" stroke="#222" stroke-width="0.12" textLength="36.00" lengthAdjust="spacingAndGlyphs" transform="rotate(-45 81.60 398.40)">WT CD8+</text>
<text x="105.40" y="405.50" font-size="9" text-anchor="start" fill="#222" stroke="#222" stroke-width="0.12" textLength="47.00" lengthAdjust="spacingAndGlyphs" transform="rotate(-45 105.40 405.50)">STAT3 CD8+</text>
<polyline points="71.60,255.80 71.60,242.60 133.90,242.60 133.90,255.80" fill="none" stroke="#333" stroke-width="1.1"/>
<polyline points="71.60,360.50 71.60,261.50 101.20,261.50 101.20,359.00" fill="none" stroke="#333" stroke-width="1.1"/>
<polyline points="104.20,359.00 104.20,261.50 133.90,261.50 133.90,265.80" fill="none" stroke="#333" stroke-width="1.1"/>
<text x="102.80" y="240.50" font-size="7.5" text-anchor="middle" fill="#222" stroke="#222" stroke-width="0.12">*</text>
<text x="86.60" y="258.60" font-size="7.5" text-anchor="middle" fill="#222" stroke="#222" stroke-width="0.12" textLength="7.50" lengthAdjust="spacingAndGlyphs">ns</text>
<text x="119.20" y="259.50" font-size="7.5" text-anchor="middle" fill="#222" stroke="#222" stroke-width="0.12">*</text>
<circle cx="66.20" cy="365.00" r="2.3" fill="#c8102e"/>
<circle cx="76.90" cy="365.00" r="2.3" fill="#c8102e"/>
<rect x="93.20" y="362.40" width="19.80" height="4.60" fill="#135486"/>
<line x1="134.70" y1="302.10" x2="134.70" y2="332.40" stroke="#333" stroke-width="1.2"/>
<line x1="129.95" y1="302.10" x2="139.45" y2="302.10" stroke="#333" stroke-width="1.2"/>
<line x1="129.95" y1="332.40" x2="139.45" y2="332.40" stroke="#333" stroke-width="1.2"/>
<polygon points="132.20,273.18 136.60,273.18 134.40,269.22" fill="#22a640"/>
<polygon points="126.80,306.28 131.20,306.28 129.00,302.32" fill="#22a640"/>
<polygon points="137.60,312.18 142.00,312.18 139.80,308.22" fill="#22a640"/>
<polygon points="132.20,343.78 136.60,343.78 134.40,339.82" fill="#22a640"/>
<polygon points="132.20,360.68 136.60,360.68 134.40,356.72" fill="#22a640"/>
<rect x="231.80" y="328.20" width="20.00" height="36.70" fill="#efc8d0"/>
<rect x="263.00" y="308.80" width="20.00" height="56.10" fill="#c5d5e3"/>
<rect x="295.20" y="354.60" width="20.00" height="10.30" fill="#cfedd6"/>
<line x1="219.80" y1="256.60" x2="219.80" y2="365.60" stroke="#222" stroke-width="1.4"/>
<line x1="219.20" y1="364.90" x2="324.60" y2="364.90" stroke="#222" stroke-width="1.4"/>
<line x1="216.80" y1="364.90" x2="219.80" y2="364.90" stroke="#222" stroke-width="1"/>
<text x="213.60" y="367.70" font-size="8" text-anchor="end" fill="#222" stroke="#222" stroke-width="0.12" textLength="10.40" lengthAdjust="spacingAndGlyphs">0.0</text>
<line x1="216.80" y1="338.62" x2="219.80" y2="338.62" stroke="#222" stroke-width="1"/>
<text x="213.60" y="341.43" font-size="8" text-anchor="end" fill="#222" stroke="#222" stroke-width="0.12" textLength="10.40" lengthAdjust="spacingAndGlyphs">0.5</text>
<line x1="216.80" y1="312.35" x2="219.80" y2="312.35" stroke="#222" stroke-width="1"/>
<text x="213.60" y="315.15" font-size="8" text-anchor="end" fill="#222" stroke="#222" stroke-width="0.12" textLength="10.40" lengthAdjust="spacingAndGlyphs">1.0</text>
<line x1="216.80" y1="286.07" x2="219.80" y2="286.07" stroke="#222" stroke-width="1"/>
<text x="213.60" y="288.88" font-size="8" text-anchor="end" fill="#222" stroke="#222" stroke-width="0.12" textLength="10.40" lengthAdjust="spacingAndGlyphs">1.5</text>
<line x1="216.80" y1="259.80" x2="219.80" y2="259.80" stroke="#222" stroke-width="1"/>
<text x="213.60" y="262.60" font-size="8" text-anchor="end" fill="#222" stroke="#222" stroke-width="0.12" textLength="10.40" lengthAdjust="spacingAndGlyphs">2.0</text>
<line x1="241.80" y1="364.90" x2="241.80" y2="367.80" stroke="#222" stroke-width="1"/>
<line x1="273.00" y1="364.90" x2="273.00" y2="367.80" stroke="#222" stroke-width="1"/>
<line x1="305.20" y1="364.90" x2="305.20" y2="367.80" stroke="#222" stroke-width="1"/>
<text x="272.60" y="243.90" font-size="9.9" text-anchor="middle" fill="#111" stroke="#111" stroke-width="0.12" textLength="22.30" lengthAdjust="spacingAndGlyphs">AKT3</text>
<text x="185.80" y="310.70" font-size="9" text-anchor="middle" fill="#222" stroke="#222" stroke-width="0.12" textLength="80.80" lengthAdjust="spacingAndGlyphs" transform="rotate(-90 185.80 310.70)">Gene expression relative</text>
<text x="196.80" y="310.70" font-size="9" text-anchor="middle" fill="#222" stroke="#222" stroke-width="0.12" textLength="58.90" lengthAdjust="spacingAndGlyphs" transform="rotate(-90 196.80 310.70)">to HPRT1 and TBP</text>
<text x="211.50" y="407.30" font-size="9" text-anchor="start" fill="#222" stroke="#222" stroke-width="0.12" textLength="49.90" lengthAdjust="spacingAndGlyphs" transform="rotate(-45 211.50 407.30)">Normal CD8+</text>
<text x="251.60" y="398.40" font-size="9" text-anchor="start" fill="#222" stroke="#222" stroke-width="0.12" textLength="36.00" lengthAdjust="spacingAndGlyphs" transform="rotate(-45 251.60 398.40)">WT CD8+</text>
<text x="276.10" y="405.50" font-size="9" text-anchor="start" fill="#222" stroke="#222" stroke-width="0.12" textLength="47.00" lengthAdjust="spacingAndGlyphs" transform="rotate(-45 276.10 405.50)">STAT3 CD8+</text>
<polyline points="241.70,269.30 241.70,257.80 305.30,257.80 305.30,269.30" fill="none" stroke="#333" stroke-width="1.1"/>
<polyline points="241.70,314.80 241.70,276.00 272.10,276.00 272.10,280.60" fill="none" stroke="#333" stroke-width="1.1"/>
<polyline points="275.60,280.60 275.60,276.00 305.30,276.00 305.30,329.00" fill="none" stroke="#333" stroke-width="1.1"/>
<text x="273.00" y="253.50" font-size="7.5" text-anchor="middle" fill="#222" stroke="#222" stroke-width="0.12" textLength="7.50" lengthAdjust="spacingAndGlyphs">ns</text>
<text x="256.60" y="272.50" font-size="7.5" text-anchor="middle" fill="#222" stroke="#222" stroke-width="0.12" textLength="7.50" lengthAdjust="spacingAndGlyphs">ns</text>
<text x="289.60" y="274.50" font-size="7.5" text-anchor="middle" fill="#222" stroke="#222" stroke-width="0.12">**</text>
<line x1="241.80" y1="318.30" x2="241.80" y2="337.10" stroke="#333" stroke-width="1.2"/>
<line x1="237.05" y1="318.30" x2="246.55" y2="318.30" stroke="#333" stroke-width="1.2"/>
<line x1="237.05" y1="337.10" x2="246.55" y2="337.10" stroke="#333" stroke-width="1.2"/>
<line x1="272.90" y1="301.30" x2="272.90" y2="316.40" stroke="#333" stroke-width="1.2"/>
<line x1="268.15" y1="301.30" x2="277.65" y2="301.30" stroke="#333" stroke-width="1.2"/>
<line x1="268.15" y1="316.40" x2="277.65" y2="316.40" stroke="#333" stroke-width="1.2"/>
<line x1="305.20" y1="348.40" x2="305.20" y2="358.70" stroke="#333" stroke-width="1.2"/>
<line x1="300.45" y1="348.40" x2="309.95" y2="348.40" stroke="#333" stroke-width="1.2"/>
<line x1="300.45" y1="358.70" x2="309.95" y2="358.70" stroke="#333" stroke-width="1.2"/>
<circle cx="236.30" cy="318.30" r="2.3" fill="#c8102e"/>
<circle cx="247.40" cy="319.60" r="2.3" fill="#c8102e"/>
<circle cx="241.70" cy="347.10" r="2.3" fill="#c8102e"/>
<rect x="270.80" y="283.90" width="4.20" height="4.20" fill="#135486"/>
<rect x="266.00" y="293.80" width="4.20" height="4.20" fill="#135486"/>
<rect x="276.80" y="298.10" width="4.20" height="4.20" fill="#135486"/>
<rect x="266.00" y="310.20" width="4.20" height="4.20" fill="#135486"/>
<rect x="276.80" y="315.40" width="4.20" height="4.20" fill="#135486"/>
<rect x="271.40" y="338.50" width="4.20" height="4.20" fill="#135486"/>
<polygon points="303.00,336.98 307.40,336.98 305.20,333.02" fill="#22a640"/>
<polygon points="295.50,364.48 299.90,364.48 297.70,360.52" fill="#22a640"/>
<polygon points="303.00,359.28 307.40,359.28 305.20,355.32" fill="#22a640"/>
<polygon points="310.30,365.48 314.70,365.48 312.50,361.52" fill="#22a640"/>
<polygon points="303.00,364.78 307.40,364.78 305.20,360.82" fill="#22a640"/>
<rect x="401.60" y="325.00" width="20.00" height="39.90" fill="#efc8d0"/>
<rect x="433.50" y="317.30" width="19.80" height="47.60" fill="#c5d5e3"/>
<rect x="465.20" y="362.50" width="20.00" height="2.40" fill="#cfedd6"/>
<line x1="389.80" y1="256.60" x2="389.80" y2="365.60" stroke="#222" stroke-width="1.4"/>
<line x1="389.20" y1="364.90" x2="494.60" y2="364.90" stroke="#222" stroke-width="1.4"/>
<line x1="386.80" y1="364.90" x2="389.80" y2="364.90" stroke="#222" stroke-width="1"/>
<text x="384.00" y="367.70" font-size="8" text-anchor="end" fill="#222" stroke="#222" stroke-width="0.12" textLength="10.40" lengthAdjust="spacingAndGlyphs">0.0</text>
<line x1="386.80" y1="343.88" x2="389.80" y2="343.88" stroke="#222" stroke-width="1"/>
<text x="384.00" y="346.68" font-size="8" text-anchor="end" fill="#222" stroke="#222" stroke-width="0.12" textLength="10.40" lengthAdjust="spacingAndGlyphs">0.5</text>
<line x1="386.80" y1="322.86" x2="389.80" y2="322.86" stroke="#222" stroke-width="1"/>
<text x="384.00" y="325.66" font-size="8" text-anchor="end" fill="#222" stroke="#222" stroke-width="0.12" textLength="10.40" lengthAdjust="spacingAndGlyphs">1.0</text>
<line x1="386.80" y1="301.84" x2="389.80" y2="301.84" stroke="#222" stroke-width="1"/>
<text x="384.00" y="304.64" font-size="8" text-anchor="end" fill="#222" stroke="#222" stroke-width="0.12" textLength="10.40" lengthAdjust="spacingAndGlyphs">1.5</text>
<line x1="386.80" y1="280.82" x2="389.80" y2="280.82" stroke="#222" stroke-width="1"/>
<text x="384.00" y="283.62" font-size="8" text-anchor="end" fill="#222" stroke="#222" stroke-width="0.12" textLength="10.40" lengthAdjust="spacingAndGlyphs">2.0</text>
<line x1="386.80" y1="259.80" x2="389.80" y2="259.80" stroke="#222" stroke-width="1"/>
<text x="384.00" y="262.60" font-size="8" text-anchor="end" fill="#222" stroke="#222" stroke-width="0.12" textLength="10.40" lengthAdjust="spacingAndGlyphs">2.5</text>
<line x1="411.50" y1="364.90" x2="411.50" y2="367.80" stroke="#222" stroke-width="1"/>
<line x1="443.40" y1="364.90" x2="443.40" y2="367.80" stroke="#222" stroke-width="1"/>
<line x1="475.20" y1="364.90" x2="475.20" y2="367.80" stroke="#222" stroke-width="1"/>
<text x="443.60" y="240.00" font-size="9.9" text-anchor="middle" fill="#111" stroke="#111" stroke-width="0.12" textLength="31.10" lengthAdjust="spacingAndGlyphs">PDGFB</text>
<text x="356.80" y="312.40" font-size="9" text-anchor="middle" fill="#222" stroke="#222" stroke-width="0.12" textLength="80.80" lengthAdjust="spacingAndGlyphs" transform="rotate(-90 356.80 312.40)">Gene expression relative</text>
<text x="367.80" y="312.40" font-size="9" text-anchor="middle" fill="#222" stroke="#222" stroke-width="0.12" textLength="58.90" lengthAdjust="spacingAndGlyphs" transform="rotate(-90 367.80 312.40)">to HPRT1 and TBP</text>
<text x="381.20" y="407.30" font-size="9" text-anchor="start" fill="#222" stroke="#222" stroke-width="0.12" textLength="49.90" lengthAdjust="spacingAndGlyphs" transform="rotate(-45 381.20 407.30)">Normal CD8+</text>
<text x="422.00" y="398.40" font-size="9" text-anchor="start" fill="#222" stroke="#222" stroke-width="0.12" textLength="36.00" lengthAdjust="spacingAndGlyphs" transform="rotate(-45 422.00 398.40)">WT CD8+</text>
<text x="446.10" y="405.50" font-size="9" text-anchor="start" fill="#222" stroke="#222" stroke-width="0.12" textLength="47.00" lengthAdjust="spacingAndGlyphs" transform="rotate(-45 446.10 405.50)">STAT3 CD8+</text>
<polyline points="411.20,268.50 411.20,255.40 475.10,255.40 475.10,268.50" fill="none" stroke="#333" stroke-width="1.1"/>
<polyline points="411.20,277.90 411.20,273.20 441.60,273.20 441.60,285.90" fill="none" stroke="#333" stroke-width="1.1"/>
<polyline points="445.40,285.90 445.40,273.20 475.10,273.20 475.10,353.80" fill="none" stroke="#333" stroke-width="1.1"/>
<text x="443.10" y="250.70" font-size="7.5" text-anchor="middle" fill="#222" stroke="#222" stroke-width="0.12" textLength="7.50" lengthAdjust="spacingAndGlyphs">ns</text>
<text x="426.90" y="269.20" font-size="7.5" text-anchor="middle" fill="#222" stroke="#222" stroke-width="0.12" textLength="7.50" lengthAdjust="spacingAndGlyphs">ns</text>
<text x="459.70" y="271.20" font-size="7.5" text-anchor="middle" fill="#222" stroke="#222" stroke-width="0.12">**</text>
<line x1="411.60" y1="302.10" x2="411.60" y2="347.10" stroke="#333" stroke-width="1.2"/>
<line x1="406.10" y1="302.10" x2="417.10" y2="302.10" stroke="#333" stroke-width="1.2"/>
<line x1="406.10" y1="347.10" x2="417.10" y2="347.10" stroke="#333" stroke-width="1.2"/>
<line x1="443.50" y1="307.90" x2="443.50" y2="325.10" stroke="#333" stroke-width="1.2"/>
<line x1="438.75" y1="307.90" x2="448.25" y2="307.90" stroke="#333" stroke-width="1.2"/>
<line x1="438.75" y1="325.10" x2="448.25" y2="325.10" stroke="#333" stroke-width="1.2"/>
<line x1="471.80" y1="361.00" x2="479.30" y2="361.00" stroke="#333" stroke-width="1.1"/>
<circle cx="411.60" cy="282.50" r="2.3" fill="#c8102e"/>
<circle cx="411.60" cy="330.90" r="2.3" fill="#c8102e"/>
<circle cx="411.60" cy="360.00" r="2.3" fill="#c8102e"/>
<rect x="441.30" y="289.80" width="4.20" height="4.20" fill="#135486"/>
<rect x="435.80" y="304.60" width="4.20" height="4.20" fill="#135486"/>
<rect x="447.00" y="305.80" width="4.20" height="4.20" fill="#135486"/>
<rect x="441.30" y="314.10" width="4.20" height="4.20" fill="#135486"/>
<rect x="441.30" y="321.40" width="4.20" height="4.20" fill="#135486"/>
<rect x="441.30" y="351.00" width="4.20" height="4.20" fill="#135486"/>
<polygon points="465.30,361.41 469.10,361.41 467.20,357.99" fill="#22a640"/>
<polygon points="469.20,364.51 473.00,364.51 471.10,361.09" fill="#22a640"/>
<polygon points="472.60,364.71 476.40,364.71 474.50,361.29" fill="#22a640"/>
<polygon points="475.60,365.01 479.40,365.01 477.50,361.59" fill="#22a640"/>
<polygon points="478.60,365.21 482.40,365.21 480.50,361.79" fill="#22a640"/>
<polygon points="481.10,365.21 484.90,365.21 483.00,361.79" fill="#22a640"/>
<text x="7.30" y="434.20" font-size="11" text-anchor="start" fill="#000" font-weight="bold">D</text>
<text x="92.70" y="429.60" font-size="8.9" text-anchor="start" fill="#111" stroke="#111" stroke-width="0.12" textLength="57.70" lengthAdjust="spacingAndGlyphs">CD8+ normal</text>
<text x="194.60" y="429.60" font-size="8.9" text-anchor="start" fill="#111" stroke="#111" stroke-width="0.12" textLength="42.70" lengthAdjust="spacingAndGlyphs">CD8+ WT</text>
<text x="281.90" y="429.60" font-size="8.9" text-anchor="start" fill="#111" stroke="#111" stroke-width="0.12" textLength="87.00" lengthAdjust="spacingAndGlyphs">CD8+ STAT3 mutant</text>
<line x1="83.50" y1="433.60" x2="160.10" y2="433.60" stroke="#333" stroke-width="1.3"/>
<line x1="164.20" y1="433.60" x2="268.00" y2="433.60" stroke="#333" stroke-width="1.3"/>
<line x1="271.50" y1="433.60" x2="380.50" y2="433.60" stroke="#333" stroke-width="1.3"/>
<text x="170.40" y="447.70" font-size="6.6" text-anchor="middle" fill="#111" stroke="#111" stroke-width="0.12" textLength="15.20" lengthAdjust="spacingAndGlyphs">1999</text>
<text x="192.60" y="447.70" font-size="6.6" text-anchor="middle" fill="#111" stroke="#111" stroke-width="0.12" textLength="15.20" lengthAdjust="spacingAndGlyphs">2098</text>
<text x="214.80" y="447.70" font-size="6.6" text-anchor="middle" fill="#111" stroke="#111" stroke-width="0.12" textLength="15.20" lengthAdjust="spacingAndGlyphs">2153</text>
<text x="236.70" y="447.70" font-size="6.6" text-anchor="middle" fill="#111" stroke="#111" stroke-width="0.12" textLength="15.20" lengthAdjust="spacingAndGlyphs">2169</text>
<text x="258.90" y="447.70" font-size="6.6" text-anchor="middle" fill="#111" stroke="#111" stroke-width="0.12" textLength="15.20" lengthAdjust="spacingAndGlyphs">2009</text>
<text x="281.90" y="447.70" font-size="6.6" text-anchor="middle" fill="#3a6ea5" stroke="#3a6ea5" stroke-width="0.12" textLength="15.20" lengthAdjust="spacingAndGlyphs">2103</text>
<text x="305.00" y="447.70" font-size="6.6" text-anchor="middle" fill="#d0243c" stroke="#d0243c" stroke-width="0.12" textLength="15.20" lengthAdjust="spacingAndGlyphs">1974</text>
<text x="327.20" y="447.70" font-size="6.6" text-anchor="middle" fill="#4cae4f" stroke="#4cae4f" stroke-width="0.12" textLength="15.20" lengthAdjust="spacingAndGlyphs">1918</text>
<text x="349.50" y="447.70" font-size="6.6" text-anchor="middle" fill="#3a6ea5" stroke="#3a6ea5" stroke-width="0.12" textLength="15.20" lengthAdjust="spacingAndGlyphs">2205</text>
<text x="372.40" y="447.70" font-size="6.6" text-anchor="middle" fill="#3a6ea5" stroke="#3a6ea5" stroke-width="0.12" textLength="15.20" lengthAdjust="spacingAndGlyphs">2127</text>
<text x="281.90" y="460.00" font-size="7" text-anchor="middle" fill="#3a6ea5" stroke="#3a6ea5" stroke-width="0.12" textLength="19.20" lengthAdjust="spacingAndGlyphs">Y640F</text>
<text x="305.00" y="460.00" font-size="7" text-anchor="middle" fill="#d0243c" stroke="#d0243c" stroke-width="0.12" textLength="19.20" lengthAdjust="spacingAndGlyphs">N647I</text>
<text x="327.20" y="460.00" font-size="7" text-anchor="middle" fill="#4cae4f" stroke="#4cae4f" stroke-width="0.12" textLength="19.20" lengthAdjust="spacingAndGlyphs">D661Y</text>
<text x="349.50" y="460.00" font-size="7" text-anchor="middle" fill="#3a6ea5" stroke="#3a6ea5" stroke-width="0.12" textLength="19.20" lengthAdjust="spacingAndGlyphs">Y640F</text>
<text x="372.40" y="460.00" font-size="7" text-anchor="middle" fill="#3a6ea5" stroke="#3a6ea5" stroke-width="0.12" textLength="19.20" lengthAdjust="spacingAndGlyphs">Y640F</text>
<text x="78.00" y="478.60" font-size="10.3" text-anchor="end" fill="#111" stroke="#111" stroke-width="0.12" textLength="47.10" lengthAdjust="spacingAndGlyphs">pS473 AKT</text>
<text x="78.00" y="499.90" font-size="10.3" text-anchor="end" fill="#111" stroke="#111" stroke-width="0.12" textLength="40.00" lengthAdjust="spacingAndGlyphs">Total AKT</text>
<text x="78.00" y="526.10" font-size="10.3" text-anchor="end" fill="#111" stroke="#111" stroke-width="0.12" textLength="51.10" lengthAdjust="spacingAndGlyphs">pT202/Y204</text>
<text x="78.00" y="539.70" font-size="10.3" text-anchor="end" fill="#111" stroke="#111" stroke-width="0.12" textLength="65.00" lengthAdjust="spacingAndGlyphs">p44/p42 MAPK</text>
<text x="78.00" y="555.40" font-size="10.3" text-anchor="end" fill="#111" stroke="#111" stroke-width="0.12" textLength="58.50" lengthAdjust="spacingAndGlyphs">Total p44/p42</text>
<text x="78.00" y="568.80" font-size="10.3" text-anchor="end" fill="#111" stroke="#111" stroke-width="0.12" textLength="26.10" lengthAdjust="spacingAndGlyphs">MAPK</text>
<text x="78.00" y="594.10" font-size="10.3" text-anchor="end" fill="#111" stroke="#111" stroke-width="0.12" textLength="47.10" lengthAdjust="spacingAndGlyphs">pS9 GSK3β</text>
<text x="78.00" y="627.20" font-size="10.3" text-anchor="end" fill="#111" stroke="#111" stroke-width="0.12" textLength="51.00" lengthAdjust="spacingAndGlyphs">Total GSK3β</text>
<text x="78.00" y="665.70" font-size="10.3" text-anchor="end" fill="#111" stroke="#111" stroke-width="0.12" textLength="32.30" lengthAdjust="spacingAndGlyphs">Vinculin</text>
<rect x="82.5" y="465.2" width="300.8" height="15.3" fill="url(#gp1)"/>
<rect x="82.5" y="515.2" width="300.8" height="25.6" fill="url(#gp2)"/>
<rect x="82.5" y="574.5" width="300.8" height="26.5" fill="url(#gp3)"/>
<path d="M91.25,545.40 Q99.50,545.40 107.75,545.40 Q109.35,545.40 109.35,547.00 L109.35,550.40 Q109.35,552.00 107.75,552.00 Q99.50,552.00 91.25,552.00 Q89.65,552.00 89.65,550.40 L89.65,547.00 Q89.65,545.40 91.25,545.40Z" fill="#000" fill-opacity="0.154" filter="url(#b3)"/>
<path d="M115.35,547.30 Q122.60,547.30 129.85,547.30 Q131.45,547.30 131.45,548.90 L131.45,552.30 Q131.45,553.90 129.85,553.90 Q122.60,553.90 115.35,553.90 Q113.75,553.90 113.75,552.30 L113.75,548.90 Q113.75,547.30 115.35,547.30Z" fill="#000" fill-opacity="0.154" filter="url(#b3)"/>
<path d="M138.95,547.30 Q146.20,547.30 153.45,547.30 Q155.05,547.30 155.05,548.90 L155.05,552.30 Q155.05,553.90 153.45,553.90 Q146.20,553.90 138.95,553.90 Q137.35,553.90 137.35,552.30 L137.35,548.90 Q137.35,547.30 138.95,547.30Z" fill="#000" fill-opacity="0.154" filter="url(#b3)"/>
<path d="M161.15,547.30 Q168.40,547.30 175.65,547.30 Q177.25,547.30 177.25,548.90 L177.25,552.30 Q177.25,553.90 175.65,553.90 Q168.40,553.90 161.15,553.90 Q159.55,553.90 159.55,552.30 L159.55,548.90 Q159.55,547.30 161.15,547.30Z" fill="#000" fill-opacity="0.154" filter="url(#b3)"/>
<path d="M183.65,548.30 Q190.40,548.30 197.15,548.30 Q198.75,548.30 198.75,549.90 L198.75,553.30 Q198.75,554.90 197.15,554.90 Q190.40,554.90 183.65,554.90 Q182.05,554.90 182.05,553.30 L182.05,549.90 Q182.05,548.30 183.65,548.30Z" fill="#000" fill-opacity="0.154" filter="url(#b3)"/>
<path d="M205.05,548.30 Q212.30,548.30 219.55,548.30 Q221.15,548.30 221.15,549.90 L221.15,553.30 Q221.15,554.90 219.55,554.90 Q212.30,554.90 205.05,554.90 Q203.45,554.90 203.45,553.30 L203.45,549.90 Q203.45,548.30 205.05,548.30Z" fill="#000" fill-opacity="0.154" filter="url(#b3)"/>
<path d="M227.25,548.30 Q234.50,548.30 241.75,548.30 Q243.35,548.30 243.35,549.90 L243.35,553.30 Q243.35,554.90 241.75,554.90 Q234.50,554.90 227.25,554.90 Q225.65,554.90 225.65,553.30 L225.65,549.90 Q225.65,548.30 227.25,548.30Z" fill="#000" fill-opacity="0.154" filter="url(#b3)"/>
<path d="M249.45,548.30 Q256.70,548.30 263.95,548.30 Q265.55,548.30 265.55,549.90 L265.55,553.30 Q265.55,554.90 263.95,554.90 Q256.70,554.90 249.45,554.90 Q247.85,554.90 247.85,553.30 L247.85,549.90 Q247.85,548.30 249.45,548.30Z" fill="#000" fill-opacity="0.154" filter="url(#b3)"/>
<path d="M272.25,546.40 Q279.00,546.40 285.75,546.40 Q287.35,546.40 287.35,548.00 L287.35,551.40 Q287.35,553.00 285.75,553.00 Q279.00,553.00 272.25,553.00 Q270.65,553.00 270.65,551.40 L270.65,548.00 Q270.65,546.40 272.25,546.40Z" fill="#000" fill-opacity="0.154" filter="url(#b3)"/>
<path d="M293.75,546.40 Q300.50,546.40 307.25,546.40 Q308.85,546.40 308.85,548.00 L308.85,551.40 Q308.85,553.00 307.25,553.00 Q300.50,553.00 293.75,553.00 Q292.15,553.00 292.15,551.40 L292.15,548.00 Q292.15,546.40 293.75,546.40Z" fill="#000" fill-opacity="0.154" filter="url(#b3)"/>
<path d="M316.05,546.40 Q322.80,546.40 329.55,546.40 Q331.15,546.40 331.15,548.00 L331.15,551.40 Q331.15,553.00 329.55,553.00 Q322.80,553.00 316.05,553.00 Q314.45,553.00 314.45,551.40 L314.45,548.00 Q314.45,546.40 316.05,546.40Z" fill="#000" fill-opacity="0.154" filter="url(#b3)"/>
<path d="M339.05,546.40 Q345.80,546.40 352.55,546.40 Q354.15,546.40 354.15,548.00 L354.15,551.40 Q354.15,553.00 352.55,553.00 Q345.80,553.00 339.05,553.00 Q337.45,553.00 337.45,551.40 L337.45,548.00 Q337.45,546.40 339.05,546.40Z" fill="#000" fill-opacity="0.154" filter="url(#b3)"/>
<path d="M362.05,544.50 Q369.30,544.50 376.55,544.50 Q378.15,544.50 378.15,546.10 L378.15,549.50 Q378.15,551.10 376.55,551.10 Q369.30,551.10 362.05,551.10 Q360.45,551.10 360.45,549.50 L360.45,546.10 Q360.45,544.50 362.05,544.50Z" fill="#000" fill-opacity="0.154" filter="url(#b3)"/>
<rect x="88.75" y="552.70" width="21.50" height="9.00" rx="3" fill="#000" fill-opacity="0.269" filter="url(#b2)"/>
<path d="M91.25,554.60 Q99.50,556.66 107.75,554.60 Q109.35,554.60 109.35,556.20 L109.35,558.20 Q109.35,559.80 107.75,559.80 Q99.50,558.94 91.25,559.80 Q89.65,559.80 89.65,558.20 L89.65,556.20 Q89.65,554.60 91.25,554.60Z" fill="#000" fill-opacity="0.960" filter="url(#b1)"/>
<rect x="112.85" y="554.60" width="19.50" height="9.00" rx="3" fill="#000" fill-opacity="0.269" filter="url(#b2)"/>
<path d="M115.35,556.50 Q122.60,558.56 129.85,556.50 Q131.45,556.50 131.45,558.10 L131.45,560.10 Q131.45,561.70 129.85,561.70 Q122.60,560.84 115.35,561.70 Q113.75,561.70 113.75,560.10 L113.75,558.10 Q113.75,556.50 115.35,556.50Z" fill="#000" fill-opacity="0.960" filter="url(#b1)"/>
<rect x="136.45" y="554.60" width="19.50" height="9.00" rx="3" fill="#000" fill-opacity="0.269" filter="url(#b2)"/>
<path d="M138.95,556.50 Q146.20,558.56 153.45,556.50 Q155.05,556.50 155.05,558.10 L155.05,560.10 Q155.05,561.70 153.45,561.70 Q146.20,560.84 138.95,561.70 Q137.35,561.70 137.35,560.10 L137.35,558.10 Q137.35,556.50 138.95,556.50Z" fill="#000" fill-opacity="0.960" filter="url(#b1)"/>
<rect x="158.65" y="554.60" width="19.50" height="9.00" rx="3" fill="#000" fill-opacity="0.269" filter="url(#b2)"/>
<path d="M161.15,556.50 Q168.40,558.56 175.65,556.50 Q177.25,556.50 177.25,558.10 L177.25,560.10 Q177.25,561.70 175.65,561.70 Q168.40,560.84 161.15,561.70 Q159.55,561.70 159.55,560.10 L159.55,558.10 Q159.55,556.50 161.15,556.50Z" fill="#000" fill-opacity="0.960" filter="url(#b1)"/>
<rect x="181.15" y="555.60" width="18.50" height="9.00" rx="3" fill="#000" fill-opacity="0.269" filter="url(#b2)"/>
<path d="M183.65,557.50 Q190.40,559.56 197.15,557.50 Q198.75,557.50 198.75,559.10 L198.75,561.10 Q198.75,562.70 197.15,562.70 Q190.40,561.84 183.65,562.70 Q182.05,562.70 182.05,561.10 L182.05,559.10 Q182.05,557.50 183.65,557.50Z" fill="#000" fill-opacity="0.960" filter="url(#b1)"/>
<rect x="202.55" y="555.60" width="19.50" height="9.00" rx="3" fill="#000" fill-opacity="0.269" filter="url(#b2)"/>
<path d="M205.05,557.50 Q212.30,559.56 219.55,557.50 Q221.15,557.50 221.15,559.10 L221.15,561.10 Q221.15,562.70 219.55,562.70 Q212.30,561.84 205.05,562.70 Q203.45,562.70 203.45,561.10 L203.45,559.10 Q203.45,557.50 205.05,557.50Z" fill="#000" fill-opacity="0.960" filter="url(#b1)"/>
<rect x="224.75" y="555.60" width="19.50" height="9.00" rx="3" fill="#000" fill-opacity="0.269" filter="url(#b2)"/>
<path d="M227.25,557.50 Q234.50,559.56 241.75,557.50 Q243.35,557.50 243.35,559.10 L243.35,561.10 Q243.35,562.70 241.75,562.70 Q234.50,561.84 227.25,562.70 Q225.65,562.70 225.65,561.10 L225.65,559.10 Q225.65,557.50 227.25,557.50Z" fill="#000" fill-opacity="0.960" filter="url(#b1)"/>
<rect x="246.95" y="555.60" width="19.50" height="9.00" rx="3" fill="#000" fill-opacity="0.269" filter="url(#b2)"/>
<path d="M249.45,557.50 Q256.70,559.56 263.95,557.50 Q265.55,557.50 265.55,559.10 L265.55,561.10 Q265.55,562.70 263.95,562.70 Q256.70,561.84 249.45,562.70 Q247.85,562.70 247.85,561.10 L247.85,559.10 Q247.85,557.50 249.45,557.50Z" fill="#000" fill-opacity="0.960" filter="url(#b1)"/>
<rect x="269.75" y="553.70" width="18.50" height="9.00" rx="3" fill="#000" fill-opacity="0.269" filter="url(#b2)"/>
<path d="M272.25,555.60 Q279.00,557.66 285.75,555.60 Q287.35,555.60 287.35,557.20 L287.35,559.20 Q287.35,560.80 285.75,560.80 Q279.00,559.94 272.25,560.80 Q270.65,560.80 270.65,559.20 L270.65,557.20 Q270.65,555.60 272.25,555.60Z" fill="#000" fill-opacity="0.960" filter="url(#b1)"/>
<rect x="291.25" y="553.70" width="18.50" height="9.00" rx="3" fill="#000" fill-opacity="0.269" filter="url(#b2)"/>
<path d="M293.75,555.60 Q300.50,557.66 307.25,555.60 Q308.85,555.60 308.85,557.20 L308.85,559.20 Q308.85,560.80 307.25,560.80 Q300.50,559.94 293.75,560.80 Q292.15,560.80 292.15,559.20 L292.15,557.20 Q292.15,555.60 293.75,555.60Z" fill="#000" fill-opacity="0.960" filter="url(#b1)"/>
<rect x="313.55" y="553.70" width="18.50" height="9.00" rx="3" fill="#000" fill-opacity="0.269" filter="url(#b2)"/>
<path d="M316.05,555.60 Q322.80,557.66 329.55,555.60 Q331.15,555.60 331.15,557.20 L331.15,559.20 Q331.15,560.80 329.55,560.80 Q322.80,559.94 316.05,560.80 Q314.45,560.80 314.45,559.20 L314.45,557.20 Q314.45,555.60 316.05,555.60Z" fill="#000" fill-opacity="0.960" filter="url(#b1)"/>
<rect x="336.55" y="553.70" width="18.50" height="9.00" rx="3" fill="#000" fill-opacity="0.269" filter="url(#b2)"/>
<path d="M339.05,555.60 Q345.80,557.66 352.55,555.60 Q354.15,555.60 354.15,557.20 L354.15,559.20 Q354.15,560.80 352.55,560.80 Q345.80,559.94 339.05,560.80 Q337.45,560.80 337.45,559.20 L337.45,557.20 Q337.45,555.60 339.05,555.60Z" fill="#000" fill-opacity="0.960" filter="url(#b1)"/>
<rect x="359.55" y="551.80" width="19.50" height="9.00" rx="3" fill="#000" fill-opacity="0.269" filter="url(#b2)"/>
<path d="M362.05,553.70 Q369.30,555.76 376.55,553.70 Q378.15,553.70 378.15,555.30 L378.15,557.30 Q378.15,558.90 376.55,558.90 Q369.30,558.04 362.05,558.90 Q360.45,558.90 360.45,557.30 L360.45,555.30 Q360.45,553.70 362.05,553.70Z" fill="#000" fill-opacity="0.960" filter="url(#b1)"/>
<rect x="88.75" y="467.90" width="21.50" height="9.40" rx="3" fill="#000" fill-opacity="0.215" filter="url(#b2)"/>
<path d="M91.25,469.80 Q99.50,471.97 107.75,469.80 Q109.35,469.80 109.35,471.40 L109.35,473.80 Q109.35,475.40 107.75,475.40 Q99.50,474.43 91.25,475.40 Q89.65,475.40 89.65,473.80 L89.65,471.40 Q89.65,469.80 91.25,469.80Z" fill="#000" fill-opacity="0.768" filter="url(#b1)"/>
<rect x="113.35" y="469.05" width="18.50" height="7.90" rx="3" fill="#000" fill-opacity="0.032" filter="url(#b2)"/>
<rect x="114.15" y="471.25" width="16.90" height="4.10" rx="1.75" fill="#000" fill-opacity="0.115" filter="url(#b1)"/>
<rect x="136.20" y="469.30" width="20.00" height="9.40" rx="3" fill="#000" fill-opacity="0.242" filter="url(#b2)"/>
<path d="M138.70,471.20 Q146.20,473.37 153.70,471.20 Q155.30,471.20 155.30,472.80 L155.30,475.20 Q155.30,476.80 153.70,476.80 Q146.20,475.83 138.70,476.80 Q137.10,476.80 137.10,475.20 L137.10,472.80 Q137.10,471.20 138.70,471.20Z" fill="#000" fill-opacity="0.864" filter="url(#b1)"/>
<rect x="159.15" y="469.55" width="18.50" height="7.90" rx="3" fill="#000" fill-opacity="0.059" filter="url(#b2)"/>
<rect x="159.95" y="471.75" width="16.90" height="4.10" rx="1.75" fill="#000" fill-opacity="0.211" filter="url(#b1)"/>
<rect x="181.40" y="471.35" width="18.00" height="7.90" rx="3" fill="#000" fill-opacity="0.148" filter="url(#b2)"/>
<rect x="182.20" y="473.55" width="16.40" height="4.10" rx="1.75" fill="#000" fill-opacity="0.528" filter="url(#b1)"/>
<rect x="202.80" y="469.80" width="19.00" height="9.40" rx="3" fill="#000" fill-opacity="0.269" filter="url(#b2)"/>
<path d="M205.30,471.70 Q212.30,473.87 219.30,471.70 Q220.90,471.70 220.90,473.30 L220.90,475.70 Q220.90,477.30 219.30,477.30 Q212.30,476.33 205.30,477.30 Q203.70,477.30 203.70,475.70 L203.70,473.30 Q203.70,471.70 205.30,471.70Z" fill="#000" fill-opacity="0.960" filter="url(#b1)"/>
<rect x="225.00" y="469.80" width="19.00" height="9.40" rx="3" fill="#000" fill-opacity="0.247" filter="url(#b2)"/>
<path d="M227.50,471.70 Q234.50,473.87 241.50,471.70 Q243.10,471.70 243.10,473.30 L243.10,475.70 Q243.10,477.30 241.50,477.30 Q234.50,476.33 227.50,477.30 Q225.90,477.30 225.90,475.70 L225.90,473.30 Q225.90,471.70 227.50,471.70Z" fill="#000" fill-opacity="0.883" filter="url(#b1)"/>
<rect x="246.70" y="467.75" width="20.00" height="10.90" rx="3" fill="#000" fill-opacity="0.269" filter="url(#b2)"/>
<path d="M249.20,469.65 Q256.70,472.24 264.20,469.65 Q265.80,469.65 265.80,471.25 L265.80,475.15 Q265.80,476.75 264.20,476.75 Q256.70,475.36 249.20,476.75 Q247.60,476.75 247.60,475.15 L247.60,471.25 Q247.60,469.65 249.20,469.65Z" fill="#000" fill-opacity="0.960" filter="url(#b1)"/>
<rect x="270.25" y="468.80" width="17.50" height="8.60" rx="3" fill="#000" fill-opacity="0.188" filter="url(#b2)"/>
<rect x="271.05" y="471.00" width="15.90" height="4.80" rx="2.10" fill="#000" fill-opacity="0.672" filter="url(#b1)"/>
<rect x="291.75" y="469.05" width="17.50" height="8.90" rx="3" fill="#000" fill-opacity="0.215" filter="url(#b2)"/>
<path d="M294.25,470.95 Q300.50,472.98 306.75,470.95 Q308.35,470.95 308.35,472.55 L308.35,474.45 Q308.35,476.05 306.75,476.05 Q300.50,475.22 294.25,476.05 Q292.65,476.05 292.65,474.45 L292.65,472.55 Q292.65,470.95 294.25,470.95Z" fill="#000" fill-opacity="0.768" filter="url(#b1)"/>
<rect x="313.05" y="467.95" width="19.50" height="8.90" rx="3" fill="#000" fill-opacity="0.228" filter="url(#b2)"/>
<path d="M315.55,469.85 Q322.80,471.88 330.05,469.85 Q331.65,469.85 331.65,471.45 L331.65,473.35 Q331.65,474.95 330.05,474.95 Q322.80,474.12 315.55,474.95 Q313.95,474.95 313.95,473.35 L313.95,471.45 Q313.95,469.85 315.55,469.85Z" fill="#000" fill-opacity="0.816" filter="url(#b1)"/>
<rect x="335.55" y="466.20" width="20.50" height="12.40" rx="3" fill="#000" fill-opacity="0.269" filter="url(#b2)"/>
<path d="M338.05,468.10 Q345.80,471.11 353.55,468.10 Q355.15,468.10 355.15,469.70 L355.15,475.10 Q355.15,476.70 353.55,476.70 Q345.80,474.89 338.05,476.70 Q336.45,476.70 336.45,475.10 L336.45,469.70 Q336.45,468.10 338.05,468.10Z" fill="#000" fill-opacity="0.960" filter="url(#b1)"/>
<rect x="359.55" y="467.20" width="19.50" height="8.40" rx="3" fill="#000" fill-opacity="0.148" filter="url(#b2)"/>
<rect x="360.35" y="469.40" width="17.90" height="4.60" rx="2.00" fill="#000" fill-opacity="0.528" filter="url(#b1)"/>
<rect x="88.50" y="486.85" width="22.00" height="11.90" rx="3" fill="#000" fill-opacity="0.261" filter="url(#b2)"/>
<path d="M91.00,488.75 Q99.50,491.62 108.00,488.75 Q109.60,488.75 109.60,490.35 L109.60,495.25 Q109.60,496.85 108.00,496.85 Q99.50,495.18 91.00,496.85 Q89.40,496.85 89.40,495.25 L89.40,490.35 Q89.40,488.75 91.00,488.75Z" fill="#000" fill-opacity="0.931" filter="url(#b1)"/>
<rect x="113.10" y="490.30" width="19.00" height="10.40" rx="3" fill="#000" fill-opacity="0.161" filter="url(#b2)"/>
<path d="M115.60,492.20 Q122.60,494.65 129.60,492.20 Q131.20,492.20 131.20,493.80 L131.20,497.20 Q131.20,498.80 129.60,498.80 Q122.60,497.55 115.60,498.80 Q114.00,498.80 114.00,497.20 L114.00,493.80 Q114.00,492.20 115.60,492.20Z" fill="#000" fill-opacity="0.576" filter="url(#b1)"/>
<rect x="136.20" y="489.55" width="20.00" height="12.90" rx="3" fill="#000" fill-opacity="0.269" filter="url(#b2)"/>
<path d="M138.70,491.45 Q146.20,494.60 153.70,491.45 Q155.30,491.45 155.30,493.05 L155.30,498.95 Q155.30,500.55 153.70,500.55 Q146.20,498.60 138.70,500.55 Q137.10,500.55 137.10,498.95 L137.10,493.05 Q137.10,491.45 138.70,491.45Z" fill="#000" fill-opacity="0.960" filter="url(#b1)"/>
<rect x="158.90" y="489.55" width="19.00" height="11.90" rx="3" fill="#000" fill-opacity="0.269" filter="url(#b2)"/>
<path d="M161.40,491.45 Q168.40,494.32 175.40,491.45 Q177.00,491.45 177.00,493.05 L177.00,497.95 Q177.00,499.55 175.40,499.55 Q168.40,497.88 161.40,499.55 Q159.80,499.55 159.80,497.95 L159.80,493.05 Q159.80,491.45 161.40,491.45Z" fill="#000" fill-opacity="0.960" filter="url(#b1)"/>
<rect x="181.40" y="490.80" width="18.00" height="10.40" rx="3" fill="#000" fill-opacity="0.237" filter="url(#b2)"/>
<path d="M183.90,492.70 Q190.40,495.15 196.90,492.70 Q198.50,492.70 198.50,494.30 L198.50,497.70 Q198.50,499.30 196.90,499.30 Q190.40,498.05 183.90,499.30 Q182.30,499.30 182.30,497.70 L182.30,494.30 Q182.30,492.70 183.90,492.70Z" fill="#000" fill-opacity="0.845" filter="url(#b1)"/>
<rect x="202.80" y="490.05" width="19.00" height="10.90" rx="3" fill="#000" fill-opacity="0.202" filter="url(#b2)"/>
<path d="M205.30,491.95 Q212.30,494.54 219.30,491.95 Q220.90,491.95 220.90,493.55 L220.90,497.45 Q220.90,499.05 219.30,499.05 Q212.30,497.66 205.30,499.05 Q203.70,499.05 203.70,497.45 L203.70,493.55 Q203.70,491.95 205.30,491.95Z" fill="#000" fill-opacity="0.720" filter="url(#b1)"/>
<rect x="225.25" y="490.05" width="18.50" height="10.90" rx="3" fill="#000" fill-opacity="0.175" filter="url(#b2)"/>
<path d="M227.75,491.95 Q234.50,494.54 241.25,491.95 Q242.85,491.95 242.85,493.55 L242.85,497.45 Q242.85,499.05 241.25,499.05 Q234.50,497.66 227.75,499.05 Q226.15,499.05 226.15,497.45 L226.15,493.55 Q226.15,491.95 227.75,491.95Z" fill="#000" fill-opacity="0.624" filter="url(#b1)"/>
<rect x="246.70" y="489.00" width="20.00" height="11.40" rx="3" fill="#000" fill-opacity="0.247" filter="url(#b2)"/>
<path d="M249.20,490.90 Q256.70,493.63 264.20,490.90 Q265.80,490.90 265.80,492.50 L265.80,496.90 Q265.80,498.50 264.20,498.50 Q256.70,496.97 249.20,498.50 Q247.60,498.50 247.60,496.90 L247.60,492.50 Q247.60,490.90 249.20,490.90Z" fill="#000" fill-opacity="0.883" filter="url(#b1)"/>
<rect x="270.00" y="490.10" width="18.00" height="10.40" rx="3" fill="#000" fill-opacity="0.237" filter="url(#b2)"/>
<path d="M272.50,492.00 Q279.00,494.45 285.50,492.00 Q287.10,492.00 287.10,493.60 L287.10,497.00 Q287.10,498.60 285.50,498.60 Q279.00,497.35 272.50,498.60 Q270.90,498.60 270.90,497.00 L270.90,493.60 Q270.90,492.00 272.50,492.00Z" fill="#000" fill-opacity="0.845" filter="url(#b1)"/>
<rect x="291.50" y="489.55" width="18.00" height="10.90" rx="3" fill="#000" fill-opacity="0.247" filter="url(#b2)"/>
<path d="M294.00,491.45 Q300.50,494.04 307.00,491.45 Q308.60,491.45 308.60,493.05 L308.60,496.95 Q308.60,498.55 307.00,498.55 Q300.50,497.16 294.00,498.55 Q292.40,498.55 292.40,496.95 L292.40,493.05 Q292.40,491.45 294.00,491.45Z" fill="#000" fill-opacity="0.883" filter="url(#b1)"/>
<rect x="313.05" y="487.20" width="19.50" height="12.40" rx="3" fill="#000" fill-opacity="0.269" filter="url(#b2)"/>
<path d="M315.55,489.10 Q322.80,492.11 330.05,489.10 Q331.65,489.10 331.65,490.70 L331.65,496.10 Q331.65,497.70 330.05,497.70 Q322.80,495.89 315.55,497.70 Q313.95,497.70 313.95,496.10 L313.95,490.70 Q313.95,489.10 315.55,489.10Z" fill="#000" fill-opacity="0.960" filter="url(#b1)"/>
<rect x="336.05" y="487.60" width="19.50" height="12.40" rx="3" fill="#000" fill-opacity="0.269" filter="url(#b2)"/>
<path d="M338.55,489.50 Q345.80,492.51 353.05,489.50 Q354.65,489.50 354.65,491.10 L354.65,496.50 Q354.65,498.10 353.05,498.10 Q345.80,496.29 338.55,498.10 Q336.95,498.10 336.95,496.50 L336.95,491.10 Q336.95,489.50 338.55,489.50Z" fill="#000" fill-opacity="0.960" filter="url(#b1)"/>
<rect x="359.55" y="486.75" width="19.50" height="10.90" rx="3" fill="#000" fill-opacity="0.220" filter="url(#b2)"/>
<path d="M362.05,488.65 Q369.30,491.24 376.55,488.65 Q378.15,488.65 378.15,490.25 L378.15,494.15 Q378.15,495.75 376.55,495.75 Q369.30,494.36 362.05,495.75 Q360.45,495.75 360.45,494.15 L360.45,490.25 Q360.45,488.65 362.05,488.65Z" fill="#000" fill-opacity="0.787" filter="url(#b1)"/>
<rect x="90.00" y="526.60" width="19.00" height="7.40" rx="3" fill="#000" fill-opacity="0.094" filter="url(#b2)"/>
<rect x="90.80" y="528.80" width="17.40" height="3.60" rx="1.50" fill="#000" fill-opacity="0.336" filter="url(#b1)"/>
<rect x="203.30" y="529.50" width="18.00" height="7.40" rx="3" fill="#000" fill-opacity="0.121" filter="url(#b2)"/>
<rect x="204.10" y="531.70" width="16.40" height="3.60" rx="1.50" fill="#000" fill-opacity="0.432" filter="url(#b1)"/>
<rect x="225.25" y="529.10" width="18.50" height="7.40" rx="3" fill="#000" fill-opacity="0.161" filter="url(#b2)"/>
<rect x="226.05" y="531.30" width="16.90" height="3.60" rx="1.50" fill="#000" fill-opacity="0.576" filter="url(#b1)"/>
<rect x="246.95" y="527.85" width="19.50" height="7.90" rx="3" fill="#000" fill-opacity="0.228" filter="url(#b2)"/>
<rect x="247.75" y="530.05" width="17.90" height="4.10" rx="1.75" fill="#000" fill-opacity="0.816" filter="url(#b1)"/>
<rect x="270.25" y="527.45" width="17.50" height="6.90" rx="3" fill="#000" fill-opacity="0.054" filter="url(#b2)"/>
<rect x="271.05" y="529.65" width="15.90" height="3.10" rx="1.25" fill="#000" fill-opacity="0.192" filter="url(#b1)"/>
<rect x="291.75" y="526.30" width="17.50" height="7.40" rx="3" fill="#000" fill-opacity="0.094" filter="url(#b2)"/>
<rect x="292.55" y="528.50" width="15.90" height="3.60" rx="1.50" fill="#000" fill-opacity="0.336" filter="url(#b1)"/>
<rect x="314.55" y="526.80" width="16.50" height="6.40" rx="3" fill="#000" fill-opacity="0.032" filter="url(#b2)"/>
<rect x="315.35" y="529.00" width="14.90" height="2.60" rx="1.00" fill="#000" fill-opacity="0.115" filter="url(#b1)"/>
<rect x="336.55" y="526.55" width="18.50" height="6.90" rx="3" fill="#000" fill-opacity="0.067" filter="url(#b2)"/>
<rect x="337.35" y="528.75" width="16.90" height="3.10" rx="1.25" fill="#000" fill-opacity="0.240" filter="url(#b1)"/>
<rect x="359.55" y="525.15" width="19.50" height="6.90" rx="3" fill="#000" fill-opacity="0.054" filter="url(#b2)"/>
<rect x="360.35" y="527.35" width="17.90" height="3.10" rx="1.25" fill="#000" fill-opacity="0.192" filter="url(#b1)"/>
<rect x="89.75" y="585.00" width="19.50" height="7.40" rx="3" fill="#000" fill-opacity="0.081" filter="url(#b2)"/>
<rect x="90.55" y="587.20" width="17.90" height="3.60" rx="1.50" fill="#000" fill-opacity="0.288" filter="url(#b1)"/>
<rect x="137.95" y="585.05" width="16.50" height="6.90" rx="3" fill="#000" fill-opacity="0.040" filter="url(#b2)"/>
<rect x="138.75" y="587.25" width="14.90" height="3.10" rx="1.25" fill="#000" fill-opacity="0.144" filter="url(#b1)"/>
<rect x="202.80" y="583.00" width="19.00" height="9.40" rx="3" fill="#000" fill-opacity="0.242" filter="url(#b2)"/>
<path d="M205.30,584.90 Q212.30,587.07 219.30,584.90 Q220.90,584.90 220.90,586.50 L220.90,588.90 Q220.90,590.50 219.30,590.50 Q212.30,589.53 205.30,590.50 Q203.70,590.50 203.70,588.90 L203.70,586.50 Q203.70,584.90 205.30,584.90Z" fill="#000" fill-opacity="0.864" filter="url(#b1)"/>
<rect x="224.75" y="582.75" width="19.50" height="9.90" rx="3" fill="#000" fill-opacity="0.269" filter="url(#b2)"/>
<path d="M227.25,584.65 Q234.50,586.96 241.75,584.65 Q243.35,584.65 243.35,586.25 L243.35,589.15 Q243.35,590.75 241.75,590.75 Q234.50,589.64 227.25,590.75 Q225.65,590.75 225.65,589.15 L225.65,586.25 Q225.65,584.65 227.25,584.65Z" fill="#000" fill-opacity="0.960" filter="url(#b1)"/>
<rect x="246.95" y="583.00" width="19.50" height="9.40" rx="3" fill="#000" fill-opacity="0.228" filter="url(#b2)"/>
<path d="M249.45,584.90 Q256.70,587.07 263.95,584.90 Q265.55,584.90 265.55,586.50 L265.55,588.90 Q265.55,590.50 263.95,590.50 Q256.70,589.53 249.45,590.50 Q247.85,590.50 247.85,588.90 L247.85,586.50 Q247.85,584.90 249.45,584.90Z" fill="#000" fill-opacity="0.816" filter="url(#b1)"/>
<rect x="269.75" y="583.10" width="18.50" height="7.40" rx="3" fill="#000" fill-opacity="0.032" filter="url(#b2)"/>
<rect x="270.55" y="585.30" width="16.90" height="3.60" rx="1.50" fill="#000" fill-opacity="0.115" filter="url(#b1)"/>
<rect x="291.25" y="583.10" width="18.50" height="7.40" rx="3" fill="#000" fill-opacity="0.067" filter="url(#b2)"/>
<rect x="292.05" y="585.30" width="16.90" height="3.60" rx="1.50" fill="#000" fill-opacity="0.240" filter="url(#b1)"/>
<rect x="312.05" y="580.40" width="21.50" height="12.40" rx="3" fill="#000" fill-opacity="0.269" filter="url(#b2)"/>
<path d="M314.55,582.30 Q322.80,585.31 331.05,582.30 Q332.65,582.30 332.65,583.90 L332.65,589.30 Q332.65,590.90 331.05,590.90 Q322.80,589.09 314.55,590.90 Q312.95,590.90 312.95,589.30 L312.95,583.90 Q312.95,582.30 314.55,582.30Z" fill="#000" fill-opacity="0.960" filter="url(#b1)"/>
<rect x="335.55" y="581.90" width="20.50" height="9.40" rx="3" fill="#000" fill-opacity="0.215" filter="url(#b2)"/>
<path d="M338.05,583.80 Q345.80,585.97 353.55,583.80 Q355.15,583.80 355.15,585.40 L355.15,587.80 Q355.15,589.40 353.55,589.40 Q345.80,588.43 338.05,589.40 Q336.45,589.40 336.45,587.80 L336.45,585.40 Q336.45,583.80 338.05,583.80Z" fill="#000" fill-opacity="0.768" filter="url(#b1)"/>
<rect x="358.30" y="580.25" width="22.00" height="11.90" rx="3" fill="#000" fill-opacity="0.269" filter="url(#b2)"/>
<path d="M360.80,582.15 Q369.30,585.02 377.80,582.15 Q379.40,582.15 379.40,583.75 L379.40,588.65 Q379.40,590.25 377.80,590.25 Q369.30,588.58 360.80,590.25 Q359.20,590.25 359.20,588.65 L359.20,583.75 Q359.20,582.15 360.80,582.15Z" fill="#000" fill-opacity="0.960" filter="url(#b1)"/>
<rect x="89.00" y="616.80" width="21.00" height="10.20" rx="3" fill="#000" fill-opacity="0.269" filter="url(#b2)"/>
<path d="M91.50,618.70 Q99.50,621.09 107.50,618.70 Q109.10,618.70 109.10,620.30 L109.10,623.50 Q109.10,625.10 107.50,625.10 Q99.50,623.91 91.50,625.10 Q89.90,625.10 89.90,623.50 L89.90,620.30 Q89.90,618.70 91.50,618.70Z" fill="#000" fill-opacity="0.960" filter="url(#b1)"/>
<rect x="112.85" y="618.85" width="19.50" height="9.90" rx="3" fill="#000" fill-opacity="0.081" filter="url(#b2)"/>
<path d="M115.35,620.75 Q122.60,623.06 129.85,620.75 Q131.45,620.75 131.45,622.35 L131.45,625.25 Q131.45,626.85 129.85,626.85 Q122.60,625.74 115.35,626.85 Q113.75,626.85 113.75,625.25 L113.75,622.35 Q113.75,620.75 115.35,620.75Z" fill="#000" fill-opacity="0.288" filter="url(#b1)"/>
<rect x="136.45" y="617.20" width="19.50" height="10.60" rx="3" fill="#000" fill-opacity="0.269" filter="url(#b2)"/>
<path d="M138.95,619.10 Q146.20,621.60 153.45,619.10 Q155.05,619.10 155.05,620.70 L155.05,624.30 Q155.05,625.90 153.45,625.90 Q146.20,624.60 138.95,625.90 Q137.35,625.90 137.35,624.30 L137.35,620.70 Q137.35,619.10 138.95,619.10Z" fill="#000" fill-opacity="0.960" filter="url(#b1)"/>
<rect x="158.90" y="616.40" width="19.00" height="10.20" rx="3" fill="#000" fill-opacity="0.269" filter="url(#b2)"/>
<path d="M161.40,618.30 Q168.40,620.69 175.40,618.30 Q177.00,618.30 177.00,619.90 L177.00,623.10 Q177.00,624.70 175.40,624.70 Q168.40,623.51 161.40,624.70 Q159.80,624.70 159.80,623.10 L159.80,619.90 Q159.80,618.30 161.40,618.30Z" fill="#000" fill-opacity="0.960" filter="url(#b1)"/>
<rect x="180.90" y="616.10" width="19.00" height="10.20" rx="3" fill="#000" fill-opacity="0.269" filter="url(#b2)"/>
<path d="M183.40,618.00 Q190.40,620.39 197.40,618.00 Q199.00,618.00 199.00,619.60 L199.00,622.80 Q199.00,624.40 197.40,624.40 Q190.40,623.21 183.40,624.40 Q181.80,624.40 181.80,622.80 L181.80,619.60 Q181.80,618.00 183.40,618.00Z" fill="#000" fill-opacity="0.960" filter="url(#b1)"/>
<rect x="202.55" y="616.10" width="19.50" height="10.20" rx="3" fill="#000" fill-opacity="0.247" filter="url(#b2)"/>
<path d="M205.05,618.00 Q212.30,620.39 219.55,618.00 Q221.15,618.00 221.15,619.60 L221.15,622.80 Q221.15,624.40 219.55,624.40 Q212.30,623.21 205.05,624.40 Q203.45,624.40 203.45,622.80 L203.45,619.60 Q203.45,618.00 205.05,618.00Z" fill="#000" fill-opacity="0.883" filter="url(#b1)"/>
<rect x="224.75" y="615.90" width="19.50" height="10.60" rx="3" fill="#000" fill-opacity="0.269" filter="url(#b2)"/>
<path d="M227.25,617.80 Q234.50,620.30 241.75,617.80 Q243.35,617.80 243.35,619.40 L243.35,623.00 Q243.35,624.60 241.75,624.60 Q234.50,623.30 227.25,624.60 Q225.65,624.60 225.65,623.00 L225.65,619.40 Q225.65,617.80 227.25,617.80Z" fill="#000" fill-opacity="0.960" filter="url(#b1)"/>
<rect x="246.95" y="616.10" width="19.50" height="10.20" rx="3" fill="#000" fill-opacity="0.237" filter="url(#b2)"/>
<path d="M249.45,618.00 Q256.70,620.39 263.95,618.00 Q265.55,618.00 265.55,619.60 L265.55,622.80 Q265.55,624.40 263.95,624.40 Q256.70,623.21 249.45,624.40 Q247.85,624.40 247.85,622.80 L247.85,619.60 Q247.85,618.00 249.45,618.00Z" fill="#000" fill-opacity="0.845" filter="url(#b1)"/>
<rect x="269.50" y="616.00" width="19.00" height="10.40" rx="3" fill="#000" fill-opacity="0.269" filter="url(#b2)"/>
<path d="M272.00,617.90 Q279.00,620.35 286.00,617.90 Q287.60,617.90 287.60,619.50 L287.60,622.90 Q287.60,624.50 286.00,624.50 Q279.00,623.25 272.00,624.50 Q270.40,624.50 270.40,622.90 L270.40,619.50 Q270.40,617.90 272.00,617.90Z" fill="#000" fill-opacity="0.960" filter="url(#b1)"/>
<rect x="291.00" y="616.00" width="19.00" height="10.40" rx="3" fill="#000" fill-opacity="0.269" filter="url(#b2)"/>
<path d="M293.50,617.90 Q300.50,620.35 307.50,617.90 Q309.10,617.90 309.10,619.50 L309.10,622.90 Q309.10,624.50 307.50,624.50 Q300.50,623.25 293.50,624.50 Q291.90,624.50 291.90,622.90 L291.90,619.50 Q291.90,617.90 293.50,617.90Z" fill="#000" fill-opacity="0.960" filter="url(#b1)"/>
<rect x="312.30" y="614.25" width="21.00" height="12.70" rx="3" fill="#000" fill-opacity="0.269" filter="url(#b2)"/>
<path d="M314.80,616.15 Q322.80,619.24 330.80,616.15 Q332.40,616.15 332.40,617.75 L332.40,623.45 Q332.40,625.05 330.80,625.05 Q322.80,623.16 314.80,625.05 Q313.20,625.05 313.20,623.45 L313.20,617.75 Q313.20,616.15 314.80,616.15Z" fill="#000" fill-opacity="0.960" filter="url(#b1)"/>
<rect x="336.05" y="616.15" width="19.50" height="9.90" rx="3" fill="#000" fill-opacity="0.228" filter="url(#b2)"/>
<path d="M338.55,618.05 Q345.80,620.36 353.05,618.05 Q354.65,618.05 354.65,619.65 L354.65,622.55 Q354.65,624.15 353.05,624.15 Q345.80,623.04 338.55,624.15 Q336.95,624.15 336.95,622.55 L336.95,619.65 Q336.95,618.05 338.55,618.05Z" fill="#000" fill-opacity="0.816" filter="url(#b1)"/>
<rect x="359.05" y="614.90" width="20.50" height="11.40" rx="3" fill="#000" fill-opacity="0.269" filter="url(#b2)"/>
<path d="M361.55,616.80 Q369.30,619.53 377.05,616.80 Q378.65,616.80 378.65,618.40 L378.65,622.80 Q378.65,624.40 377.05,624.40 Q369.30,622.87 361.55,624.40 Q359.95,624.40 359.95,622.80 L359.95,618.40 Q359.95,616.80 361.55,616.80Z" fill="#000" fill-opacity="0.960" filter="url(#b1)"/>
<rect x="89.25" y="654.55" width="20.50" height="7.90" rx="3" fill="#000" fill-opacity="0.269" filter="url(#b2)"/>
<rect x="90.05" y="656.75" width="18.90" height="4.10" rx="1.75" fill="#000" fill-opacity="0.960" filter="url(#b1)"/>
<rect x="113.10" y="652.95" width="19.00" height="7.90" rx="3" fill="#000" fill-opacity="0.269" filter="url(#b2)"/>
<rect x="113.90" y="655.15" width="17.40" height="4.10" rx="1.75" fill="#000" fill-opacity="0.960" filter="url(#b1)"/>
<rect x="136.45" y="652.30" width="19.50" height="8.40" rx="3" fill="#000" fill-opacity="0.269" filter="url(#b2)"/>
<rect x="137.25" y="654.50" width="17.90" height="4.60" rx="2.00" fill="#000" fill-opacity="0.960" filter="url(#b1)"/>
<rect x="158.90" y="651.40" width="19.00" height="8.40" rx="3" fill="#000" fill-opacity="0.269" filter="url(#b2)"/>
<rect x="159.70" y="653.60" width="17.40" height="4.60" rx="2.00" fill="#000" fill-opacity="0.960" filter="url(#b1)"/>
<rect x="180.90" y="649.80" width="19.00" height="8.40" rx="3" fill="#000" fill-opacity="0.269" filter="url(#b2)"/>
<rect x="181.70" y="652.00" width="17.40" height="4.60" rx="2.00" fill="#000" fill-opacity="0.960" filter="url(#b1)"/>
<rect x="202.80" y="649.80" width="19.00" height="8.40" rx="3" fill="#000" fill-opacity="0.269" filter="url(#b2)"/>
<rect x="203.60" y="652.00" width="17.40" height="4.60" rx="2.00" fill="#000" fill-opacity="0.960" filter="url(#b1)"/>
<rect x="225.00" y="649.80" width="19.00" height="8.40" rx="3" fill="#000" fill-opacity="0.269" filter="url(#b2)"/>
<rect x="225.80" y="652.00" width="17.40" height="4.60" rx="2.00" fill="#000" fill-opacity="0.960" filter="url(#b1)"/>
<rect x="247.20" y="649.80" width="19.00" height="8.40" rx="3" fill="#000" fill-opacity="0.269" filter="url(#b2)"/>
<rect x="248.00" y="652.00" width="17.40" height="4.60" rx="2.00" fill="#000" fill-opacity="0.960" filter="url(#b1)"/>
<rect x="269.50" y="650.70" width="19.00" height="8.40" rx="3" fill="#000" fill-opacity="0.269" filter="url(#b2)"/>
<rect x="270.30" y="652.90" width="17.40" height="4.60" rx="2.00" fill="#000" fill-opacity="0.960" filter="url(#b1)"/>
<rect x="291.00" y="650.70" width="19.00" height="8.40" rx="3" fill="#000" fill-opacity="0.269" filter="url(#b2)"/>
<rect x="291.80" y="652.90" width="17.40" height="4.60" rx="2.00" fill="#000" fill-opacity="0.960" filter="url(#b1)"/>
<rect x="313.30" y="650.70" width="19.00" height="8.40" rx="3" fill="#000" fill-opacity="0.269" filter="url(#b2)"/>
<rect x="314.10" y="652.90" width="17.40" height="4.60" rx="2.00" fill="#000" fill-opacity="0.960" filter="url(#b1)"/>
<rect x="336.30" y="650.70" width="19.00" height="8.40" rx="3" fill="#000" fill-opacity="0.269" filter="url(#b2)"/>
<rect x="337.10" y="652.90" width="17.40" height="4.60" rx="2.00" fill="#000" fill-opacity="0.960" filter="url(#b1)"/>
<rect x="359.80" y="650.70" width="19.00" height="8.40" rx="3" fill="#000" fill-opacity="0.269" filter="url(#b2)"/>
<rect x="360.60" y="652.90" width="17.40" height="4.60" rx="2.00" fill="#000" fill-opacity="0.960" filter="url(#b1)"/>
<rect x="82.5" y="465.2" width="300.8" height="42.30000000000001" fill="none" stroke="#1a1a1a" stroke-width="1.4"/>
<rect x="82.5" y="515.2" width="300.8" height="52.59999999999991" fill="none" stroke="#1a1a1a" stroke-width="1.4"/>
<rect x="82.5" y="574.5" width="300.8" height="100.79999999999995" fill="none" stroke="#1a1a1a" stroke-width="1.4"/>
<line x1="82.50" y1="480.50" x2="383.30" y2="480.50" stroke="#1a1a1a" stroke-width="1.3"/>
<line x1="82.50" y1="540.80" x2="383.30" y2="540.80" stroke="#1a1a1a" stroke-width="1.3"/>
<line x1="82.50" y1="601.00" x2="383.30" y2="601.00" stroke="#1a1a1a" stroke-width="1.3"/>
<line x1="82.50" y1="640.30" x2="383.30" y2="640.30" stroke="#1a1a1a" stroke-width="1.3"/>
<rect x="0.5" y="0.5" width="519" height="682" fill="none" stroke="#000" stroke-width="1.2"/>
</svg>
</body></html>
